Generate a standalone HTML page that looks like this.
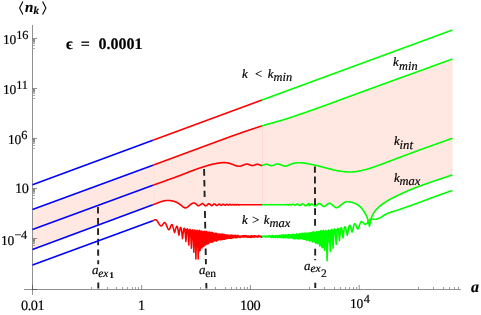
<!DOCTYPE html>
<html><head><meta charset="utf-8"><title>plot</title>
<style>
html,body{margin:0;padding:0;background:#fff;}
body{width:481px;height:315px;position:relative;overflow:hidden;font-family:"Liberation Serif",serif;color:#000;}
.t{position:absolute;white-space:nowrap;line-height:1;font-family:"Liberation Serif",serif;text-rendering:geometricPrecision;will-change:transform;-webkit-text-stroke:0.18px #000;}
.i{font-style:italic;}
.b{font-weight:bold;}
.sub{position:relative;}
</style></head>
<body>
<svg width="481" height="315" viewBox="0 0 481 315" style="position:absolute;left:0;top:0">
<rect width="481" height="315" fill="#ffffff"/>
<polygon points="32.90,209.35 152.90,165.17 152.90,204.80 32.90,249.35" fill="#ffe8e2"/>
<polygon points="152.90,165.17 220.50,140.29 221.00,140.10 221.50,139.92 222.00,139.73 222.50,139.55 223.00,139.36 223.50,139.17 224.00,138.99 224.50,138.80 225.00,138.62 225.50,138.43 226.00,138.25 226.50,138.06 227.00,137.88 227.50,137.69 228.00,137.51 228.50,137.32 229.00,137.14 229.50,136.96 230.00,136.77 230.50,136.59 231.00,136.41 231.50,136.23 232.00,136.05 232.50,135.87 233.00,135.69 233.50,135.51 234.00,135.33 234.50,135.16 235.00,134.98 235.50,134.80 236.00,134.62 236.50,134.45 237.00,134.27 237.50,134.09 238.00,133.92 238.50,133.74 239.00,133.57 239.50,133.39 240.00,133.22 240.50,133.04 241.00,132.87 241.50,132.70 242.00,132.52 242.50,132.35 243.00,132.18 243.50,132.01 244.00,131.84 244.50,131.67 245.00,131.50 245.50,131.33 246.00,131.16 246.50,130.99 247.00,130.82 247.50,130.65 248.00,130.49 248.50,130.32 249.00,130.15 249.50,129.98 250.00,129.81 250.50,129.65 251.00,129.48 251.50,129.31 252.00,129.14 252.50,128.98 253.00,128.81 253.50,128.65 254.00,128.48 254.50,128.31 255.00,128.15 255.50,127.99 256.00,127.82 256.50,127.66 257.00,127.50 257.50,127.33 258.00,127.17 258.50,127.01 259.00,126.85 259.50,126.69 260.00,126.53 260.50,126.37 261.00,126.21 261.50,126.06 262.00,125.90 262.00,204.75 261.70,204.75 261.40,204.75 261.10,204.75 260.80,204.75 260.50,204.75 260.20,204.75 259.90,204.75 259.60,204.75 259.30,204.75 259.00,204.75 258.70,204.75 258.40,204.75 258.10,204.75 257.80,204.75 257.50,204.75 257.20,204.75 256.90,204.75 256.60,204.75 256.30,204.75 256.00,204.74 255.70,204.74 255.40,204.74 255.10,204.74 254.80,204.74 254.50,204.74 254.20,204.74 253.90,204.74 253.60,204.74 253.30,204.74 253.00,204.74 252.70,204.74 252.40,204.74 252.10,204.74 251.80,204.74 251.50,204.73 251.20,204.73 250.90,204.73 250.60,204.73 250.30,204.73 250.00,204.73 249.70,204.73 249.40,204.73 249.10,204.73 248.80,204.73 248.50,204.73 248.20,204.73 247.90,204.73 247.60,204.73 247.30,204.73 247.00,204.73 246.70,204.73 246.40,204.73 246.10,204.73 245.80,204.73 245.50,204.73 245.20,204.73 244.90,204.73 244.60,204.73 244.30,204.73 244.00,204.73 243.70,204.74 243.40,204.74 243.10,204.74 242.80,204.74 242.50,204.74 242.20,204.74 241.90,204.74 241.60,204.75 241.30,204.75 241.00,204.75 240.73,204.76 240.46,204.78 240.19,204.80 239.92,204.83 239.65,204.86 239.38,204.89 239.11,204.91 238.84,204.92 238.58,204.92 238.28,204.85 237.98,204.73 237.68,204.62 237.38,204.57 237.08,204.63 236.78,204.77 236.48,204.90 236.18,204.95 235.88,204.88 235.58,204.73 235.28,204.59 234.98,204.52 234.68,204.60 234.38,204.77 234.08,204.93 233.78,205.00 233.48,204.91 233.18,204.73 232.88,204.55 232.58,204.47 232.32,204.54 232.06,204.69 231.80,204.86 231.55,205.00 231.29,205.06 231.01,204.99 230.74,204.82 230.46,204.63 230.19,204.47 229.91,204.40 229.61,204.49 229.31,204.67 229.02,204.89 228.72,205.06 228.42,205.13 228.16,205.07 227.89,204.91 227.63,204.72 227.36,204.52 227.09,204.38 226.83,204.32 226.54,204.40 226.25,204.57 225.97,204.79 225.68,205.00 225.40,205.16 225.11,205.22 224.85,205.16 224.58,205.01 224.32,204.82 224.05,204.60 223.79,204.41 223.53,204.27 223.26,204.22 222.98,204.29 222.70,204.46 222.41,204.68 222.13,204.91 221.84,205.13 221.56,205.28 221.28,205.33 221.01,205.27 220.74,205.13 220.48,204.93 220.21,204.70 219.94,204.48 219.68,204.28 219.41,204.15 219.14,204.10 218.85,204.17 218.57,204.33 218.28,204.55 217.99,204.80 217.71,205.05 217.42,205.27 217.13,205.42 216.85,205.47 216.57,205.41 216.30,205.27 216.02,205.06 215.75,204.82 215.47,204.56 215.20,204.33 214.93,204.13 214.65,203.99 214.38,203.95 214.08,204.01 213.79,204.18 213.49,204.41 213.20,204.68 212.90,204.96 212.61,205.22 212.31,205.44 212.02,205.59 211.72,205.64 211.44,205.58 211.15,205.43 210.87,205.21 210.58,204.96 210.30,204.68 210.01,204.40 209.73,204.15 209.44,203.94 209.15,203.80 208.87,203.76 208.59,203.82 208.31,203.96 208.03,204.16 207.75,204.41 207.47,204.69 207.19,204.97 206.92,205.24 206.64,205.49 206.36,205.68 206.08,205.81 205.80,205.85 205.53,205.80 205.25,205.69 204.98,205.52 204.70,205.30 204.43,205.06 204.15,204.79 203.88,204.53 203.60,204.27 203.32,204.04 203.05,203.84 202.78,203.69 202.50,203.60 202.20,203.60 201.90,203.71 201.60,203.90 201.30,204.13 201.00,204.38 200.70,204.61 200.40,204.80 200.10,204.98 199.80,205.18 199.50,205.38 199.20,205.56 198.90,205.71 198.60,205.80 198.30,205.80 198.01,205.70 197.73,205.52 197.44,205.27 197.16,204.99 196.87,204.70 196.59,204.43 196.30,204.20 196.04,204.02 195.78,203.83 195.51,203.64 195.25,203.47 194.99,203.31 194.72,203.17 194.46,203.07 194.20,203.00 193.91,202.98 193.63,203.00 193.34,203.06 193.06,203.14 192.77,203.25 192.49,203.37 192.20,203.50 191.90,203.64 191.60,203.80 191.30,203.97 191.00,204.16 190.70,204.36 190.40,204.58 190.10,204.80 189.82,205.02 189.54,205.26 189.26,205.52 188.98,205.78 188.70,206.04 188.42,206.30 188.14,206.55 187.86,206.79 187.58,207.01 187.30,207.20 187.01,207.37 186.73,207.53 186.44,207.66 186.16,207.76 185.87,207.84 185.59,207.88 185.30,207.90 185.02,207.87 184.73,207.79 184.45,207.68 184.17,207.53 183.88,207.37 183.60,207.20 183.30,207.01 183.00,206.79 182.70,206.56 182.40,206.31 182.10,206.07 181.80,205.83 181.50,205.60 181.22,205.39 180.95,205.18 180.68,204.97 180.40,204.76 180.12,204.55 179.85,204.34 179.57,204.13 179.30,203.93 179.02,203.74 178.75,203.55 178.47,203.37 178.20,203.20 177.92,203.03 177.63,202.87 177.35,202.72 177.07,202.57 176.78,202.43 176.50,202.29 176.22,202.16 175.93,202.04 175.65,201.92 175.37,201.81 175.08,201.70 174.80,201.60 174.51,201.50 174.22,201.41 173.92,201.32 173.63,201.24 173.34,201.16 173.05,201.09 172.75,201.02 172.46,200.96 172.17,200.90 171.88,200.84 171.58,200.79 171.29,200.74 171.00,200.70 170.71,200.66 170.42,200.62 170.12,200.59 169.83,200.56 169.54,200.54 169.25,200.52 168.95,200.51 168.66,200.49 168.37,200.49 168.08,200.48 167.78,200.48 167.49,200.49 167.20,200.50 166.92,200.51 166.63,200.53 166.35,200.55 166.06,200.58 165.78,200.61 165.49,200.65 165.21,200.69 164.92,200.73 164.64,200.77 164.35,200.83 164.07,200.88 163.78,200.94 163.50,201.00 163.22,201.06 162.94,201.13 162.66,201.21 162.39,201.28 162.11,201.36 161.83,201.45 161.55,201.53 161.27,201.62 160.99,201.72 160.71,201.81 160.44,201.90 160.16,202.00 159.88,202.10 159.60,202.20 159.31,202.31 159.02,202.41 158.73,202.52 158.43,202.63 158.14,202.74 157.85,202.85 157.56,202.96 157.27,203.08 156.98,203.19 156.69,203.30 156.40,203.42 156.10,203.53 155.81,203.65 155.52,203.76 155.23,203.88 154.94,204.00 154.65,204.11 154.36,204.23 154.07,204.34 153.77,204.46 153.48,204.57 153.19,204.69 152.90,204.80" fill="#ffe8e2"/>
<polygon points="262.00,125.90 262.50,125.74 263.00,125.59 263.50,125.44 264.00,125.29 264.50,125.15 265.00,125.00 265.50,124.86 266.00,124.71 266.50,124.57 267.00,124.43 267.50,124.29 268.00,124.15 268.50,124.01 269.00,123.87 269.50,123.73 270.00,123.59 270.50,123.46 271.00,123.32 271.50,123.18 272.00,123.03 272.50,122.89 273.00,122.75 273.50,122.61 274.00,122.46 274.50,122.32 275.00,122.18 275.50,122.04 276.00,121.90 276.50,121.76 277.00,121.62 277.50,121.48 278.00,121.34 278.50,121.20 279.00,121.06 279.50,120.92 280.00,120.78 280.50,120.64 281.00,120.50 281.50,120.35 282.00,120.21 282.50,120.06 283.00,119.91 283.50,119.76 284.00,119.61 284.50,119.46 285.00,119.30 285.50,119.14 286.00,118.98 286.50,118.83 287.00,118.67 287.50,118.50 288.00,118.34 288.50,118.18 289.00,118.02 289.50,117.85 290.00,117.69 290.50,117.52 291.00,117.35 291.50,117.19 292.00,117.02 292.50,116.85 293.00,116.68 293.50,116.51 294.00,116.34 294.50,116.17 295.00,116.00 295.50,115.83 296.00,115.66 296.50,115.49 297.00,115.32 297.50,115.15 298.00,114.98 298.50,114.81 299.00,114.64 299.50,114.47 300.00,114.30 300.50,114.13 301.00,113.96 301.50,113.79 302.00,113.62 302.50,113.45 303.00,113.28 303.50,113.11 304.00,112.94 304.50,112.76 305.00,112.59 305.50,112.42 306.00,112.25 306.50,112.08 307.00,111.90 307.50,111.73 308.00,111.56 308.50,111.38 309.00,111.21 309.50,111.04 310.00,110.86 310.50,110.69 311.00,110.51 311.50,110.34 312.00,110.16 312.50,109.99 313.00,109.81 313.50,109.63 314.00,109.46 314.50,109.28 315.00,109.10 315.50,108.92 316.00,108.74 316.50,108.56 317.00,108.38 317.50,108.20 318.00,108.02 318.50,107.84 319.00,107.65 319.50,107.47 320.00,107.29 320.50,107.11 321.00,106.92 321.50,106.74 322.00,106.55 322.50,106.37 323.00,106.18 323.50,106.00 324.00,105.81 324.50,105.63 325.00,105.44 325.50,105.26 326.00,105.07 326.50,104.89 327.00,104.70 327.50,104.52 328.00,104.34 328.50,104.15 329.00,103.97 329.50,103.78 330.00,103.60 330.50,103.42 331.00,103.23 331.50,103.05 332.00,102.87 332.50,102.68 333.00,102.50 333.50,102.32 334.00,102.13 334.50,101.95 335.00,101.77 335.50,101.58 336.00,101.40 336.50,101.22 337.00,101.03 337.50,100.85 338.00,100.67 338.50,100.48 339.00,100.30 339.50,100.12 340.00,99.93 340.50,99.75 341.00,99.57 341.50,99.38 342.00,99.20 342.50,99.02 343.00,98.83 343.50,98.65 344.00,98.47 344.50,98.28 345.00,98.10 345.50,97.92 346.00,97.73 346.50,97.55 347.00,97.37 347.50,97.18 348.00,97.00 348.50,96.82 349.00,96.64 349.50,96.45 350.00,96.27 350.50,96.09 351.00,95.90 351.50,95.72 352.00,95.54 352.50,95.35 353.00,95.17 353.50,94.99 354.00,94.80 354.50,94.62 355.00,94.44 355.50,94.25 356.00,94.07 356.50,93.89 357.00,93.71 357.50,93.52 358.00,93.34 358.50,93.16 359.00,92.97 359.50,92.79 360.00,92.61 360.50,92.42 361.00,92.24 361.50,92.06 362.00,91.87 362.50,91.69 363.00,91.51 363.50,91.33 364.00,91.14 364.50,90.96 365.00,90.78 365.50,90.59 366.00,90.41 366.50,90.23 367.00,90.04 367.50,89.86 368.00,89.68 368.50,89.50 369.00,89.31 369.50,89.13 370.00,88.95 370.50,88.77 371.00,88.58 371.50,88.40 372.00,88.22 372.50,88.03 373.00,87.85 373.50,87.67 374.00,87.49 374.50,87.30 375.00,87.12 375.50,86.94 376.00,86.76 376.50,86.58 377.00,86.39 377.50,86.21 378.00,86.03 378.50,85.85 379.00,85.66 379.50,85.48 380.00,85.30 380.50,85.12 381.00,84.94 381.50,84.75 382.00,84.57 382.50,84.39 383.00,84.21 383.50,84.03 384.00,83.85 384.50,83.66 385.00,83.48 385.50,83.30 386.00,83.12 386.50,82.94 387.00,82.76 387.50,82.57 388.00,82.39 388.50,82.21 389.00,82.03 389.50,81.85 390.00,81.67 390.50,81.49 391.00,81.31 391.50,81.12 392.00,80.94 392.50,80.76 393.00,80.58 393.50,80.40 394.00,80.22 394.50,80.04 395.00,79.86 395.50,79.68 396.00,79.49 396.50,79.31 397.00,79.13 397.50,78.95 398.00,78.77 398.50,78.59 399.00,78.41 399.50,78.23 400.00,78.05 400.50,77.87 401.00,77.68 401.50,77.50 402.00,77.32 402.50,77.14 403.00,76.96 403.50,76.78 404.00,76.60 404.50,76.42 405.00,76.24 405.50,76.06 406.00,75.87 406.50,75.69 407.00,75.51 407.50,75.33 408.00,75.15 408.50,74.97 409.00,74.79 409.50,74.61 410.00,74.43 410.50,74.25 411.00,74.06 411.50,73.88 412.00,73.70 412.50,73.52 413.00,73.34 413.50,73.16 414.00,72.98 414.50,72.80 415.00,72.61 415.50,72.43 416.00,72.25 416.50,72.07 417.00,71.89 417.50,71.71 418.00,71.53 418.50,71.34 419.00,71.16 419.50,70.98 420.00,70.80 420.50,70.62 421.00,70.44 421.50,70.26 421.99,70.08 422.49,69.89 422.99,69.71 423.49,69.53 423.99,69.35 424.49,69.17 424.98,68.99 425.48,68.81 425.98,68.63 426.48,68.44 426.98,68.26 427.48,68.08 427.98,67.90 428.47,67.72 428.97,67.54 429.47,67.36 429.97,67.17 430.47,66.99 430.97,66.81 431.46,66.63 431.96,66.45 432.46,66.27 432.96,66.08 433.46,65.90 433.96,65.72 434.46,65.54 434.95,65.36 435.45,65.18 435.95,64.99 436.45,64.81 436.95,64.63 437.45,64.45 437.94,64.27 438.44,64.09 438.94,63.90 439.44,63.72 439.94,63.54 440.44,63.36 440.94,63.18 441.43,63.00 441.93,62.81 442.43,62.63 442.93,62.45 443.43,62.27 443.93,62.09 444.42,61.91 444.92,61.72 445.42,61.54 445.92,61.36 446.42,61.18 446.92,61.00 447.42,60.82 447.91,60.63 448.41,60.45 448.91,60.27 449.41,60.09 449.91,59.91 450.41,59.73 450.90,59.54 451.40,59.36 451.90,59.18 452.40,59.00 452.40,174.90 452.00,175.03 451.60,175.17 451.20,175.30 450.80,175.44 450.40,175.57 450.00,175.70 449.60,175.84 449.20,175.97 448.80,176.10 448.40,176.24 448.00,176.37 447.60,176.50 447.20,176.63 446.80,176.77 446.40,176.90 446.00,177.03 445.60,177.17 445.20,177.30 444.80,177.43 444.40,177.57 444.00,177.70 443.60,177.83 443.20,177.97 442.80,178.10 442.40,178.24 442.00,178.37 441.60,178.50 441.20,178.64 440.80,178.77 440.40,178.91 440.00,179.04 439.60,179.18 439.20,179.32 438.80,179.45 438.40,179.59 438.00,179.73 437.60,179.86 437.20,180.00 436.80,180.14 436.40,180.27 436.01,180.41 435.61,180.55 435.21,180.68 434.81,180.82 434.41,180.96 434.02,181.09 433.62,181.23 433.22,181.37 432.82,181.50 432.43,181.64 432.03,181.78 431.63,181.91 431.23,182.05 430.83,182.19 430.44,182.32 430.04,182.46 429.64,182.60 429.24,182.74 428.84,182.87 428.45,183.01 428.05,183.15 427.65,183.29 427.25,183.43 426.85,183.57 426.46,183.70 426.06,183.84 425.66,183.98 425.26,184.12 424.86,184.26 424.47,184.40 424.07,184.54 423.67,184.68 423.27,184.83 422.88,184.97 422.48,185.11 422.08,185.25 421.68,185.39 421.28,185.54 420.89,185.68 420.49,185.83 420.09,185.97 419.69,186.12 419.29,186.26 418.90,186.41 418.50,186.55 418.10,186.70 417.71,186.84 417.32,186.99 416.93,187.14 416.55,187.29 416.16,187.44 415.77,187.59 415.38,187.74 414.99,187.89 414.60,188.05 414.22,188.21 413.83,188.36 413.44,188.52 413.05,188.68 412.66,188.84 412.27,189.00 411.88,189.16 411.50,189.32 411.11,189.49 410.72,189.65 410.33,189.81 409.94,189.98 409.55,190.14 409.17,190.30 408.78,190.47 408.39,190.63 408.00,190.80 407.60,190.97 407.20,191.14 406.80,191.32 406.40,191.49 406.00,191.66 405.60,191.84 405.20,192.02 404.80,192.20 404.40,192.37 404.00,192.55 403.60,192.74 403.20,192.92 402.80,193.10 402.40,193.28 402.00,193.47 401.60,193.65 401.20,193.84 400.80,194.02 400.40,194.21 400.00,194.40 399.60,194.59 399.20,194.78 398.80,194.96 398.40,195.15 398.00,195.34 397.60,195.53 397.20,195.72 396.80,195.91 396.40,196.10 396.00,196.29 395.60,196.48 395.20,196.67 394.80,196.87 394.40,197.06 394.00,197.26 393.60,197.46 393.20,197.66 392.80,197.86 392.40,198.06 392.00,198.27 391.60,198.48 391.20,198.69 390.80,198.90 390.41,199.11 390.01,199.33 389.62,199.55 389.23,199.78 388.83,200.01 388.44,200.24 388.04,200.48 387.65,200.72 387.26,200.96 386.86,201.20 386.47,201.45 386.07,201.69 385.68,201.94 385.29,202.20 384.89,202.45 384.50,202.70 384.11,202.95 383.72,203.21 383.33,203.47 382.94,203.75 382.56,204.02 382.17,204.31 381.78,204.60 381.39,204.89 381.00,205.20 380.64,205.49 380.27,205.80 379.91,206.12 379.55,206.44 379.19,206.77 378.83,207.11 378.46,207.45 378.10,207.80 377.75,208.14 377.40,208.47 377.05,208.81 376.70,209.16 376.35,209.51 376.00,209.89 375.65,210.28 375.30,210.70 374.92,211.19 374.53,211.70 374.15,212.25 373.77,212.83 373.38,213.45 373.00,214.10 372.65,214.76 372.30,215.49 371.95,216.31 371.60,217.20 371.27,218.16 370.93,219.26 370.60,220.50 370.30,221.89 370.00,223.50 369.75,224.92 369.50,226.40 369.25,225.34 369.00,224.30 368.77,223.34 368.53,222.40 368.30,221.50 368.05,220.56 367.80,219.64 367.55,218.77 367.30,218.00 367.04,217.30 366.78,216.66 366.52,216.08 366.26,215.53 366.00,215.00 365.73,214.47 365.46,213.95 365.19,213.44 364.91,212.96 364.64,212.49 364.37,212.04 364.10,211.60 363.84,211.19 363.58,210.79 363.31,210.41 363.05,210.04 362.79,209.68 362.52,209.33 362.26,209.01 362.00,208.70 361.71,208.37 361.42,208.06 361.13,207.76 360.84,207.46 360.55,207.18 360.26,206.90 359.97,206.64 359.68,206.38 359.39,206.14 359.10,205.90 358.82,205.68 358.54,205.47 358.25,205.26 357.97,205.07 357.69,204.88 357.41,204.70 357.13,204.53 356.85,204.36 356.56,204.20 356.28,204.05 356.00,203.90 355.73,203.76 355.45,203.63 355.18,203.50 354.90,203.37 354.62,203.26 354.35,203.14 354.07,203.04 353.80,202.94 353.52,202.84 353.25,202.76 352.97,202.67 352.70,202.60 352.41,202.53 352.12,202.45 351.83,202.38 351.54,202.32 351.26,202.25 350.97,202.19 350.68,202.13 350.39,202.07 350.10,202.02 349.81,201.96 349.52,201.92 349.23,201.87 348.94,201.83 348.66,201.80 348.37,201.77 348.08,201.74 347.79,201.72 347.50,201.70 347.22,201.69 346.94,201.70 346.67,201.72 346.39,201.76 346.11,201.81 345.83,201.88 345.56,201.97 345.28,202.07 345.00,202.20 344.71,202.35 344.43,202.51 344.14,202.69 343.86,202.87 343.57,203.07 343.29,203.27 343.00,203.48 342.71,203.69 342.43,203.90 342.14,204.11 341.86,204.31 341.57,204.52 341.29,204.71 341.00,204.90 340.71,205.10 340.43,205.31 340.14,205.54 339.85,205.78 339.56,206.03 339.27,206.27 338.99,206.52 338.70,206.75 338.41,206.97 338.12,207.17 337.84,207.34 337.55,207.49 337.26,207.61 336.97,207.68 336.69,207.71 336.40,207.70 336.10,207.64 335.81,207.54 335.51,207.41 335.22,207.25 334.92,207.06 334.63,206.86 334.33,206.63 334.03,206.38 333.74,206.13 333.44,205.87 333.15,205.60 332.85,205.33 332.56,205.06 332.26,204.80 331.97,204.55 331.67,204.31 331.37,204.09 331.08,203.89 330.78,203.71 330.49,203.56 330.19,203.44 329.90,203.35 329.60,203.30 329.31,203.30 329.01,203.35 328.72,203.45 328.42,203.59 328.13,203.77 327.83,203.97 327.54,204.19 327.24,204.44 326.95,204.69 326.65,204.95 326.36,205.20 326.06,205.45 325.77,205.69 325.47,205.91 325.18,206.10 324.88,206.26 324.59,206.39 324.29,206.47 324.00,206.50 323.72,206.48 323.44,206.40 323.15,206.27 322.87,206.10 322.59,205.90 322.31,205.68 322.02,205.43 321.74,205.18 321.46,204.92 321.18,204.66 320.89,204.41 320.61,204.17 320.33,203.96 320.05,203.78 319.76,203.64 319.48,203.54 319.20,203.50 318.90,203.53 318.60,203.63 318.30,203.80 318.00,204.02 317.70,204.27 317.40,204.55 317.10,204.84 316.80,205.13 316.50,205.39 316.20,205.63 315.90,205.81 315.60,205.94 315.30,206.00 315.01,205.98 314.73,205.91 314.44,205.79 314.16,205.62 313.87,205.43 313.59,205.22 313.30,205.00 313.01,204.78 312.73,204.56 312.44,204.36 312.16,204.18 311.87,204.04 311.59,203.94 311.30,203.90 311.01,204.00 310.73,204.26 310.44,204.63 310.16,205.03 309.87,205.39 309.59,205.64 309.30,205.70 309.22,204.60 309.13,203.50 308.84,203.55 308.55,203.68 308.26,203.86 307.97,204.10 307.68,204.36 307.39,204.64 307.10,204.92 306.81,205.18 306.52,205.42 306.23,205.61 305.94,205.74 305.65,205.80 305.37,205.76 305.09,205.64 304.81,205.46 304.53,205.23 304.24,204.98 303.96,204.70 303.68,204.44 303.40,204.20 303.11,204.00 302.83,203.86 302.55,203.80 302.27,203.83 301.99,203.95 301.72,204.12 301.44,204.34 301.16,204.58 300.88,204.82 300.61,205.05 300.33,205.24 300.05,205.38 299.78,205.44 299.50,205.40 299.23,205.29 298.95,205.12 298.68,204.91 298.40,204.69 298.13,204.47 297.85,204.29 297.57,204.16 297.30,204.10 297.02,204.13 296.75,204.25 296.47,204.42 296.19,204.62 295.92,204.82 295.64,205.00 295.37,205.14 295.09,205.19 294.81,205.16 294.53,205.03 294.24,204.86 293.96,204.67 293.68,204.49 293.40,204.36 293.12,204.29 292.82,204.34 292.53,204.47 292.23,204.65 291.94,204.82 291.65,204.97 291.35,205.03 291.09,205.00 290.83,204.89 290.57,204.75 290.30,204.60 290.04,204.48 289.78,204.43 289.50,204.47 289.22,204.59 288.94,204.74 288.66,204.86 288.37,204.92 288.12,204.89 287.87,204.79 287.62,204.67 287.37,204.57 287.12,204.52 286.84,204.56 286.56,204.67 286.28,204.78 286.00,204.85 285.75,204.84 285.50,204.79 285.25,204.73 285.00,204.70 284.70,204.70 284.40,204.70 284.10,204.70 283.81,204.70 283.51,204.70 283.21,204.69 282.91,204.69 282.61,204.69 282.31,204.69 282.01,204.69 281.71,204.69 281.42,204.69 281.12,204.69 280.82,204.69 280.52,204.69 280.22,204.69 279.92,204.69 279.62,204.69 279.32,204.69 279.03,204.69 278.73,204.69 278.43,204.69 278.13,204.70 277.83,204.70 277.53,204.70 277.23,204.70 276.94,204.70 276.64,204.70 276.34,204.70 276.04,204.70 275.74,204.70 275.44,204.70 275.14,204.70 274.84,204.70 274.55,204.71 274.25,204.71 273.95,204.71 273.65,204.71 273.35,204.71 273.05,204.71 272.75,204.71 272.45,204.71 272.16,204.72 271.86,204.72 271.56,204.72 271.26,204.72 270.96,204.72 270.66,204.72 270.36,204.72 270.06,204.72 269.77,204.73 269.47,204.73 269.17,204.73 268.87,204.73 268.57,204.73 268.27,204.73 267.97,204.73 267.68,204.73 267.38,204.74 267.08,204.74 266.78,204.74 266.48,204.74 266.18,204.74 265.88,204.74 265.58,204.74 265.29,204.74 264.99,204.74 264.69,204.74 264.39,204.75 264.09,204.75 263.79,204.75 263.49,204.75 263.19,204.75 262.90,204.75 262.60,204.75 262.30,204.75 262.00,204.75" fill="#ffe8e2"/>
<line x1="153.50" x2="153.50" y1="164.95" y2="204.57" stroke="#ffe0da" stroke-width="1"/>
<line x1="262.50" x2="262.50" y1="125.74" y2="204.75" stroke="#ffd8d1" stroke-width="1"/>
<line x1="451.75" x2="451.75" y1="59.40" y2="174.60" stroke="#ffe0da" stroke-width="0.9"/>
<g stroke="#404040" stroke-width="1" stroke-opacity="0.58" fill="none" shape-rendering="auto">
<line x1="32.50" x2="32.50" y1="24.9" y2="294.8"/>
<line x1="24" x2="460.7" y1="289.50" y2="289.50"/>
<line x1="32.50" x2="37" y1="289.50" y2="289.50"/>
<line x1="32.50" x2="32.50" y1="285" y2="289.50"/>
<line x1="32.50" x2="37.0" y1="38.50" y2="38.50"/>
<line x1="32.50" x2="37.0" y1="88.50" y2="88.50"/>
<line x1="32.50" x2="37.0" y1="138.50" y2="138.50"/>
<line x1="32.50" x2="37.0" y1="188.50" y2="188.50"/>
<line x1="32.50" x2="37.0" y1="238.50" y2="238.50"/>
<line x1="141.70" x2="141.70" y1="285.0" y2="289.50"/>
<line x1="250.40" x2="250.40" y1="285.0" y2="289.50"/>
<line x1="359.20" x2="359.20" y1="285.0" y2="289.50"/>
</g>
<g stroke="#404040" stroke-width="1" fill="none">
<line x1="33" x2="35.0" y1="39.50" y2="39.50" stroke-opacity="0.62"/>
<line x1="33" x2="35.0" y1="40.50" y2="40.50" stroke-opacity="0.62"/>
<line x1="33" x2="35.0" y1="41.50" y2="41.50" stroke-opacity="0.55"/>
<line x1="33" x2="35.0" y1="42.50" y2="42.50" stroke-opacity="0.35"/>
<line x1="33" x2="35.0" y1="43.50" y2="43.50" stroke-opacity="0.42"/>
<line x1="33" x2="35.0" y1="45.50" y2="45.50" stroke-opacity="0.45"/>
<line x1="33" x2="35.0" y1="48.50" y2="48.50" stroke-opacity="0.42"/>
<line x1="33" x2="35.0" y1="89.50" y2="89.50" stroke-opacity="0.62"/>
<line x1="33" x2="35.0" y1="90.50" y2="90.50" stroke-opacity="0.62"/>
<line x1="33" x2="35.0" y1="91.50" y2="91.50" stroke-opacity="0.55"/>
<line x1="33" x2="35.0" y1="92.50" y2="92.50" stroke-opacity="0.35"/>
<line x1="33" x2="35.0" y1="93.50" y2="93.50" stroke-opacity="0.42"/>
<line x1="33" x2="35.0" y1="95.50" y2="95.50" stroke-opacity="0.45"/>
<line x1="33" x2="35.0" y1="98.50" y2="98.50" stroke-opacity="0.42"/>
<line x1="33" x2="35.0" y1="139.50" y2="139.50" stroke-opacity="0.62"/>
<line x1="33" x2="35.0" y1="140.50" y2="140.50" stroke-opacity="0.62"/>
<line x1="33" x2="35.0" y1="141.50" y2="141.50" stroke-opacity="0.55"/>
<line x1="33" x2="35.0" y1="142.50" y2="142.50" stroke-opacity="0.35"/>
<line x1="33" x2="35.0" y1="143.50" y2="143.50" stroke-opacity="0.42"/>
<line x1="33" x2="35.0" y1="145.50" y2="145.50" stroke-opacity="0.45"/>
<line x1="33" x2="35.0" y1="148.50" y2="148.50" stroke-opacity="0.42"/>
<line x1="33" x2="35.0" y1="189.50" y2="189.50" stroke-opacity="0.62"/>
<line x1="33" x2="35.0" y1="190.50" y2="190.50" stroke-opacity="0.62"/>
<line x1="33" x2="35.0" y1="191.50" y2="191.50" stroke-opacity="0.55"/>
<line x1="33" x2="35.0" y1="192.50" y2="192.50" stroke-opacity="0.35"/>
<line x1="33" x2="35.0" y1="193.50" y2="193.50" stroke-opacity="0.42"/>
<line x1="33" x2="35.0" y1="195.50" y2="195.50" stroke-opacity="0.45"/>
<line x1="33" x2="35.0" y1="198.50" y2="198.50" stroke-opacity="0.42"/>
<line x1="33" x2="35.0" y1="239.50" y2="239.50" stroke-opacity="0.62"/>
<line x1="33" x2="35.0" y1="240.50" y2="240.50" stroke-opacity="0.62"/>
<line x1="33" x2="35.0" y1="241.50" y2="241.50" stroke-opacity="0.55"/>
<line x1="33" x2="35.0" y1="242.50" y2="242.50" stroke-opacity="0.35"/>
<line x1="33" x2="35.0" y1="243.50" y2="243.50" stroke-opacity="0.42"/>
<line x1="33" x2="35.0" y1="245.50" y2="245.50" stroke-opacity="0.45"/>
<line x1="33" x2="35.0" y1="248.50" y2="248.50" stroke-opacity="0.42"/>
</g>
<g stroke="#404040" stroke-width="1" stroke-opacity="0.5" fill="none">
<line x1="91.50" x2="91.50" y1="287.0" y2="289.00"/>
<line x1="107.50" x2="107.50" y1="287.0" y2="289.00"/>
<line x1="116.50" x2="116.50" y1="287.0" y2="289.00"/>
<line x1="122.50" x2="122.50" y1="287.0" y2="289.00"/>
<line x1="127.50" x2="127.50" y1="287.0" y2="289.00"/>
<line x1="132.50" x2="132.50" y1="287.0" y2="289.00"/>
<line x1="135.50" x2="135.50" y1="287.0" y2="289.00"/>
<line x1="138.50" x2="138.50" y1="287.0" y2="289.00"/>
<line x1="200.50" x2="200.50" y1="287.0" y2="289.00"/>
<line x1="215.50" x2="215.50" y1="287.0" y2="289.00"/>
<line x1="225.50" x2="225.50" y1="287.0" y2="289.00"/>
<line x1="231.50" x2="231.50" y1="287.0" y2="289.00"/>
<line x1="236.50" x2="236.50" y1="287.0" y2="289.00"/>
<line x1="240.50" x2="240.50" y1="287.0" y2="289.00"/>
<line x1="244.50" x2="244.50" y1="287.0" y2="289.00"/>
<line x1="247.50" x2="247.50" y1="287.0" y2="289.00"/>
<line x1="309.50" x2="309.50" y1="287.0" y2="289.00"/>
<line x1="324.50" x2="324.50" y1="287.0" y2="289.00"/>
<line x1="334.50" x2="334.50" y1="287.0" y2="289.00"/>
<line x1="340.50" x2="340.50" y1="287.0" y2="289.00"/>
<line x1="345.50" x2="345.50" y1="287.0" y2="289.00"/>
<line x1="349.50" x2="349.50" y1="287.0" y2="289.00"/>
<line x1="353.50" x2="353.50" y1="287.0" y2="289.00"/>
<line x1="356.50" x2="356.50" y1="287.0" y2="289.00"/>
<line x1="418.50" x2="418.50" y1="287.0" y2="289.00"/>
<line x1="433.50" x2="433.50" y1="287.0" y2="289.00"/>
<line x1="443.50" x2="443.50" y1="287.0" y2="289.00"/>
<line x1="449.50" x2="449.50" y1="287.0" y2="289.00"/>
<line x1="454.50" x2="454.50" y1="287.0" y2="289.00"/>
<line x1="458.50" x2="458.50" y1="287.0" y2="289.00"/>
</g>
<line x1="98.00" y1="207.10" x2="98.02" y2="213.40" stroke="#222222" stroke-width="1.9"/>
<line x1="98.04" y1="217.90" x2="98.07" y2="224.70" stroke="#222222" stroke-width="1.9"/>
<line x1="98.08" y1="228.30" x2="98.10" y2="235.00" stroke="#222222" stroke-width="1.9"/>
<line x1="98.12" y1="238.80" x2="98.14" y2="245.20" stroke="#222222" stroke-width="1.9"/>
<line x1="98.16" y1="249.40" x2="98.18" y2="255.80" stroke="#222222" stroke-width="1.9"/>
<line x1="98.20" y1="260.30" x2="98.21" y2="264.20" stroke="#222222" stroke-width="1.9"/>
<line x1="98.28" y1="282.40" x2="98.30" y2="288.40" stroke="#222222" stroke-width="1.9"/>
<line x1="204.10" y1="169.10" x2="204.23" y2="175.70" stroke="#222222" stroke-width="1.9"/>
<line x1="204.31" y1="180.00" x2="204.44" y2="186.50" stroke="#222222" stroke-width="1.9"/>
<line x1="204.52" y1="190.70" x2="204.64" y2="196.90" stroke="#222222" stroke-width="1.9"/>
<line x1="204.91" y1="210.90" x2="205.05" y2="217.90" stroke="#222222" stroke-width="1.9"/>
<line x1="205.12" y1="221.70" x2="205.25" y2="228.60" stroke="#222222" stroke-width="1.9"/>
<line x1="205.64" y1="248.50" x2="205.76" y2="255.00" stroke="#222222" stroke-width="1.9"/>
<line x1="205.84" y1="259.00" x2="205.94" y2="264.30" stroke="#222222" stroke-width="1.9"/>
<line x1="206.30" y1="282.90" x2="206.41" y2="288.40" stroke="#222222" stroke-width="1.9"/>
<line x1="314.90" y1="166.40" x2="314.92" y2="172.70" stroke="#222222" stroke-width="1.9"/>
<line x1="314.93" y1="176.50" x2="314.96" y2="183.50" stroke="#222222" stroke-width="1.9"/>
<line x1="314.97" y1="187.30" x2="314.99" y2="194.10" stroke="#222222" stroke-width="1.9"/>
<line x1="315.01" y1="198.20" x2="315.03" y2="204.90" stroke="#222222" stroke-width="1.9"/>
<line x1="315.04" y1="208.30" x2="315.06" y2="215.10" stroke="#222222" stroke-width="1.9"/>
<line x1="315.07" y1="218.90" x2="315.10" y2="225.70" stroke="#222222" stroke-width="1.9"/>
<line x1="315.17" y1="248.70" x2="315.19" y2="255.60" stroke="#222222" stroke-width="1.9"/>
<line x1="315.20" y1="258.90" x2="315.21" y2="260.30" stroke="#222222" stroke-width="1.9"/>
<line x1="315.28" y1="282.80" x2="315.30" y2="288.00" stroke="#222222" stroke-width="1.9"/>
<path d="M32.50,184.70 L152.90,140.31" fill="none" stroke="#0000ff" stroke-width="1.62" stroke-linejoin="round" stroke-linecap="butt"/>
<path d="M152.90,140.31 L262.00,100.09" fill="none" stroke="#ff0000" stroke-width="1.62" stroke-linejoin="round" stroke-linecap="butt"/>
<path d="M262.00,100.09 L452.40,29.90" fill="none" stroke="#00ff00" stroke-width="1.62" stroke-linejoin="round" stroke-linecap="butt"/>
<path d="M32.50,209.50 L152.90,165.17" fill="none" stroke="#0000ff" stroke-width="1.62" stroke-linejoin="round" stroke-linecap="butt"/>
<path d="M152.90,165.17 L220.50,140.29 L221.00,140.10 L221.50,139.92 L222.00,139.73 L222.50,139.55 L223.00,139.36 L223.50,139.17 L224.00,138.99 L224.50,138.80 L225.00,138.62 L225.50,138.43 L226.00,138.25 L226.50,138.06 L227.00,137.88 L227.50,137.69 L228.00,137.51 L228.50,137.32 L229.00,137.14 L229.50,136.96 L230.00,136.77 L230.50,136.59 L231.00,136.41 L231.50,136.23 L232.00,136.05 L232.50,135.87 L233.00,135.69 L233.50,135.51 L234.00,135.33 L234.50,135.16 L235.00,134.98 L235.50,134.80 L236.00,134.62 L236.50,134.45 L237.00,134.27 L237.50,134.09 L238.00,133.92 L238.50,133.74 L239.00,133.57 L239.50,133.39 L240.00,133.22 L240.50,133.04 L241.00,132.87 L241.50,132.70 L242.00,132.52 L242.50,132.35 L243.00,132.18 L243.50,132.01 L244.00,131.84 L244.50,131.67 L245.00,131.50 L245.50,131.33 L246.00,131.16 L246.50,130.99 L247.00,130.82 L247.50,130.65 L248.00,130.49 L248.50,130.32 L249.00,130.15 L249.50,129.98 L250.00,129.81 L250.50,129.65 L251.00,129.48 L251.50,129.31 L252.00,129.14 L252.50,128.98 L253.00,128.81 L253.50,128.65 L254.00,128.48 L254.50,128.31 L255.00,128.15 L255.50,127.99 L256.00,127.82 L256.50,127.66 L257.00,127.50 L257.50,127.33 L258.00,127.17 L258.50,127.01 L259.00,126.85 L259.50,126.69 L260.00,126.53 L260.50,126.37 L261.00,126.21 L261.50,126.06 L262.00,125.90" fill="none" stroke="#ff0000" stroke-width="1.62" stroke-linejoin="round" stroke-linecap="butt"/>
<path d="M262.00,125.90 L262.50,125.74 L263.00,125.59 L263.50,125.44 L264.00,125.29 L264.50,125.15 L265.00,125.00 L265.50,124.86 L266.00,124.71 L266.50,124.57 L267.00,124.43 L267.50,124.29 L268.00,124.15 L268.50,124.01 L269.00,123.87 L269.50,123.73 L270.00,123.59 L270.50,123.46 L271.00,123.32 L271.50,123.18 L272.00,123.03 L272.50,122.89 L273.00,122.75 L273.50,122.61 L274.00,122.46 L274.50,122.32 L275.00,122.18 L275.50,122.04 L276.00,121.90 L276.50,121.76 L277.00,121.62 L277.50,121.48 L278.00,121.34 L278.50,121.20 L279.00,121.06 L279.50,120.92 L280.00,120.78 L280.50,120.64 L281.00,120.50 L281.50,120.35 L282.00,120.21 L282.50,120.06 L283.00,119.91 L283.50,119.76 L284.00,119.61 L284.50,119.46 L285.00,119.30 L285.50,119.14 L286.00,118.98 L286.50,118.83 L287.00,118.67 L287.50,118.50 L288.00,118.34 L288.50,118.18 L289.00,118.02 L289.50,117.85 L290.00,117.69 L290.50,117.52 L291.00,117.35 L291.50,117.19 L292.00,117.02 L292.50,116.85 L293.00,116.68 L293.50,116.51 L294.00,116.34 L294.50,116.17 L295.00,116.00 L295.50,115.83 L296.00,115.66 L296.50,115.49 L297.00,115.32 L297.50,115.15 L298.00,114.98 L298.50,114.81 L299.00,114.64 L299.50,114.47 L300.00,114.30 L300.50,114.13 L301.00,113.96 L301.50,113.79 L302.00,113.62 L302.50,113.45 L303.00,113.28 L303.50,113.11 L304.00,112.94 L304.50,112.76 L305.00,112.59 L305.50,112.42 L306.00,112.25 L306.50,112.08 L307.00,111.90 L307.50,111.73 L308.00,111.56 L308.50,111.38 L309.00,111.21 L309.50,111.04 L310.00,110.86 L310.50,110.69 L311.00,110.51 L311.50,110.34 L312.00,110.16 L312.50,109.99 L313.00,109.81 L313.50,109.63 L314.00,109.46 L314.50,109.28 L315.00,109.10 L315.50,108.92 L316.00,108.74 L316.50,108.56 L317.00,108.38 L317.50,108.20 L318.00,108.02 L318.50,107.84 L319.00,107.65 L319.50,107.47 L320.00,107.29 L320.50,107.11 L321.00,106.92 L321.50,106.74 L322.00,106.55 L322.50,106.37 L323.00,106.18 L323.50,106.00 L324.00,105.81 L324.50,105.63 L325.00,105.44 L325.50,105.26 L326.00,105.07 L326.50,104.89 L327.00,104.70 L327.50,104.52 L328.00,104.34 L328.50,104.15 L329.00,103.97 L329.50,103.78 L330.00,103.60 L330.50,103.42 L331.00,103.23 L331.50,103.05 L332.00,102.87 L332.50,102.68 L333.00,102.50 L333.50,102.32 L334.00,102.13 L334.50,101.95 L335.00,101.77 L335.50,101.58 L336.00,101.40 L336.50,101.22 L337.00,101.03 L337.50,100.85 L338.00,100.67 L338.50,100.48 L339.00,100.30 L339.50,100.12 L340.00,99.93 L340.50,99.75 L341.00,99.57 L341.50,99.38 L342.00,99.20 L342.50,99.02 L343.00,98.83 L343.50,98.65 L344.00,98.47 L344.50,98.28 L345.00,98.10 L345.50,97.92 L346.00,97.73 L346.50,97.55 L347.00,97.37 L347.50,97.18 L348.00,97.00 L348.50,96.82 L349.00,96.64 L349.50,96.45 L350.00,96.27 L350.50,96.09 L351.00,95.90 L351.50,95.72 L352.00,95.54 L352.50,95.35 L353.00,95.17 L353.50,94.99 L354.00,94.80 L354.50,94.62 L355.00,94.44 L355.50,94.25 L356.00,94.07 L356.50,93.89 L357.00,93.71 L357.50,93.52 L358.00,93.34 L358.50,93.16 L359.00,92.97 L359.50,92.79 L360.00,92.61 L360.50,92.42 L361.00,92.24 L361.50,92.06 L362.00,91.87 L362.50,91.69 L363.00,91.51 L363.50,91.33 L364.00,91.14 L364.50,90.96 L365.00,90.78 L365.50,90.59 L366.00,90.41 L366.50,90.23 L367.00,90.04 L367.50,89.86 L368.00,89.68 L368.50,89.50 L369.00,89.31 L369.50,89.13 L370.00,88.95 L370.50,88.77 L371.00,88.58 L371.50,88.40 L372.00,88.22 L372.50,88.03 L373.00,87.85 L373.50,87.67 L374.00,87.49 L374.50,87.30 L375.00,87.12 L375.50,86.94 L376.00,86.76 L376.50,86.58 L377.00,86.39 L377.50,86.21 L378.00,86.03 L378.50,85.85 L379.00,85.66 L379.50,85.48 L380.00,85.30 L380.50,85.12 L381.00,84.94 L381.50,84.75 L382.00,84.57 L382.50,84.39 L383.00,84.21 L383.50,84.03 L384.00,83.85 L384.50,83.66 L385.00,83.48 L385.50,83.30 L386.00,83.12 L386.50,82.94 L387.00,82.76 L387.50,82.57 L388.00,82.39 L388.50,82.21 L389.00,82.03 L389.50,81.85 L390.00,81.67 L390.50,81.49 L391.00,81.31 L391.50,81.12 L392.00,80.94 L392.50,80.76 L393.00,80.58 L393.50,80.40 L394.00,80.22 L394.50,80.04 L395.00,79.86 L395.50,79.68 L396.00,79.49 L396.50,79.31 L397.00,79.13 L397.50,78.95 L398.00,78.77 L398.50,78.59 L399.00,78.41 L399.50,78.23 L400.00,78.05 L400.50,77.87 L401.00,77.68 L401.50,77.50 L402.00,77.32 L402.50,77.14 L403.00,76.96 L403.50,76.78 L404.00,76.60 L404.50,76.42 L405.00,76.24 L405.50,76.06 L406.00,75.87 L406.50,75.69 L407.00,75.51 L407.50,75.33 L408.00,75.15 L408.50,74.97 L409.00,74.79 L409.50,74.61 L410.00,74.43 L410.50,74.25 L411.00,74.06 L411.50,73.88 L412.00,73.70 L412.50,73.52 L413.00,73.34 L413.50,73.16 L414.00,72.98 L414.50,72.80 L415.00,72.61 L415.50,72.43 L416.00,72.25 L416.50,72.07 L417.00,71.89 L417.50,71.71 L418.00,71.53 L418.50,71.34 L419.00,71.16 L419.50,70.98 L420.00,70.80 L420.50,70.62 L421.00,70.44 L421.50,70.26 L421.99,70.08 L422.49,69.89 L422.99,69.71 L423.49,69.53 L423.99,69.35 L424.49,69.17 L424.98,68.99 L425.48,68.81 L425.98,68.63 L426.48,68.44 L426.98,68.26 L427.48,68.08 L427.98,67.90 L428.47,67.72 L428.97,67.54 L429.47,67.36 L429.97,67.17 L430.47,66.99 L430.97,66.81 L431.46,66.63 L431.96,66.45 L432.46,66.27 L432.96,66.08 L433.46,65.90 L433.96,65.72 L434.46,65.54 L434.95,65.36 L435.45,65.18 L435.95,64.99 L436.45,64.81 L436.95,64.63 L437.45,64.45 L437.94,64.27 L438.44,64.09 L438.94,63.90 L439.44,63.72 L439.94,63.54 L440.44,63.36 L440.94,63.18 L441.43,63.00 L441.93,62.81 L442.43,62.63 L442.93,62.45 L443.43,62.27 L443.93,62.09 L444.42,61.91 L444.92,61.72 L445.42,61.54 L445.92,61.36 L446.42,61.18 L446.92,61.00 L447.42,60.82 L447.91,60.63 L448.41,60.45 L448.91,60.27 L449.41,60.09 L449.91,59.91 L450.41,59.73 L450.90,59.54 L451.40,59.36 L451.90,59.18 L452.40,59.00" fill="none" stroke="#00ff00" stroke-width="1.62" stroke-linejoin="round" stroke-linecap="butt"/>
<path d="M32.50,229.50 L152.90,185.30" fill="none" stroke="#0000ff" stroke-width="1.62" stroke-linejoin="round" stroke-linecap="butt"/>
<path d="M152.90,185.30 L165.00,180.90 L165.49,180.73 L165.97,180.55 L166.46,180.38 L166.94,180.21 L167.43,180.03 L167.91,179.86 L168.40,179.69 L168.88,179.52 L169.37,179.35 L169.85,179.17 L170.34,179.00 L170.82,178.83 L171.31,178.66 L171.79,178.49 L172.28,178.31 L172.76,178.14 L173.25,177.97 L173.73,177.79 L174.22,177.62 L174.70,177.44 L175.19,177.27 L175.67,177.09 L176.16,176.91 L176.64,176.74 L177.13,176.56 L177.61,176.38 L178.10,176.20 L178.60,176.01 L179.09,175.83 L179.59,175.64 L180.08,175.45 L180.58,175.26 L181.07,175.07 L181.57,174.88 L182.07,174.69 L182.56,174.50 L183.06,174.30 L183.55,174.11 L184.05,173.92 L184.55,173.72 L185.04,173.53 L185.54,173.33 L186.03,173.14 L186.53,172.94 L187.03,172.75 L187.52,172.56 L188.02,172.36 L188.51,172.17 L189.01,171.98 L189.50,171.79 L190.00,171.60 L190.48,171.42 L190.96,171.23 L191.44,171.05 L191.92,170.86 L192.40,170.68 L192.88,170.50 L193.36,170.31 L193.84,170.13 L194.32,169.95 L194.80,169.77 L195.28,169.59 L195.76,169.42 L196.24,169.24 L196.72,169.07 L197.20,168.90 L197.67,168.73 L198.15,168.57 L198.62,168.41 L199.10,168.24 L199.57,168.08 L200.05,167.92 L200.53,167.77 L201.00,167.61 L201.47,167.46 L201.95,167.30 L202.43,167.15 L202.90,167.00 L203.38,166.85 L203.85,166.70 L204.33,166.55 L204.80,166.40 L205.27,166.25 L205.74,166.11 L206.21,165.97 L206.69,165.82 L207.16,165.68 L207.63,165.54 L208.10,165.40 L208.57,165.27 L209.04,165.13 L209.51,165.00 L209.99,164.87 L210.46,164.74 L210.93,164.62 L211.40,164.50 L211.89,164.38 L212.38,164.27 L212.87,164.16 L213.36,164.06 L213.85,163.96 L214.34,163.86 L214.83,163.77 L215.32,163.68 L215.81,163.59 L216.30,163.50 L216.76,163.41 L217.23,163.33 L217.69,163.25 L218.15,163.17 L218.61,163.10 L219.07,163.03 L219.54,162.96 L220.00,162.90 L220.50,162.84 L221.00,162.78 L221.50,162.72 L222.00,162.67 L222.50,162.63 L223.00,162.61 L223.50,162.60 L224.00,162.60 L224.50,162.61 L225.00,162.63 L225.50,162.66 L226.00,162.70 L226.50,162.75 L227.00,162.82 L227.50,162.90 L228.00,163.00 L228.50,163.11 L229.00,163.24 L229.50,163.38 L230.00,163.52 L230.50,163.68 L231.00,163.84 L231.50,164.00 L232.00,164.17 L232.50,164.36 L233.00,164.56 L233.50,164.76 L234.00,164.96 L234.50,165.16 L235.00,165.34 L235.50,165.50 L235.95,165.64 L236.40,165.78 L236.85,165.93 L237.30,166.05 L237.75,166.16 L238.20,166.25 L238.65,166.29 L239.10,166.30 L239.59,166.25 L240.07,166.16 L240.56,166.03 L241.05,165.88 L241.54,165.71 L242.03,165.53 L242.51,165.36 L243.00,165.20 L243.46,165.04 L243.93,164.87 L244.39,164.68 L244.85,164.49 L245.31,164.31 L245.77,164.17 L246.24,164.06 L246.70,164.00 L247.18,164.02 L247.67,164.12 L248.15,164.28 L248.63,164.46 L249.12,164.64 L249.60,164.80 L250.07,164.95 L250.53,165.12 L251.00,165.29 L251.47,165.44 L251.93,165.55 L252.40,165.60 L252.88,165.56 L253.36,165.43 L253.84,165.25 L254.32,165.06 L254.80,164.90 L255.28,164.74 L255.76,164.56 L256.24,164.39 L256.72,164.26 L257.20,164.20 L257.62,164.24 L258.04,164.35 L258.46,164.50 L258.88,164.66 L259.30,164.80 L259.72,164.94 L260.14,165.10 L260.56,165.25 L260.98,165.36 L261.40,165.40 L261.83,165.37 L262.00,165.34" fill="none" stroke="#ff0000" stroke-width="1.62" stroke-linejoin="round" stroke-linecap="butt"/>
<path d="M262.00,165.34 L262.27,165.29 L262.70,165.17 L263.13,165.04 L263.57,164.91 L264.00,164.80 L264.45,164.68 L264.90,164.55 L265.35,164.41 L265.80,164.29 L266.25,164.22 L266.70,164.20 L267.16,164.27 L267.62,164.43 L268.08,164.62 L268.54,164.83 L269.00,165.00 L269.50,165.17 L270.00,165.36 L270.50,165.54 L271.00,165.66 L271.50,165.70 L271.97,165.65 L272.43,165.55 L272.90,165.40 L273.37,165.23 L273.83,165.05 L274.30,164.90 L274.78,164.74 L275.27,164.55 L275.75,164.36 L276.23,164.19 L276.72,164.06 L277.20,164.00 L277.67,164.00 L278.14,164.04 L278.61,164.12 L279.09,164.22 L279.56,164.34 L280.03,164.47 L280.50,164.60 L280.99,164.76 L281.47,164.95 L281.96,165.16 L282.44,165.38 L282.93,165.58 L283.41,165.76 L283.90,165.90 L284.33,165.99 L284.77,166.06 L285.20,166.10 L285.63,166.10 L286.07,166.07 L286.50,166.00 L287.00,165.87 L287.50,165.69 L288.00,165.48 L288.50,165.26 L289.00,165.02 L289.50,164.80 L290.00,164.60 L290.50,164.41 L291.00,164.21 L291.50,164.01 L292.00,163.82 L292.50,163.63 L293.00,163.47 L293.50,163.32 L294.00,163.20 L294.46,163.11 L294.93,163.03 L295.39,162.96 L295.85,162.89 L296.32,162.84 L296.78,162.80 L297.25,162.76 L297.71,162.73 L298.17,162.71 L298.64,162.70 L299.10,162.70 L299.59,162.70 L300.08,162.72 L300.58,162.74 L301.07,162.76 L301.56,162.80 L302.05,162.84 L302.54,162.89 L303.03,162.94 L303.52,163.00 L304.02,163.06 L304.51,163.13 L305.00,163.20 L305.49,163.28 L305.98,163.35 L306.47,163.44 L306.96,163.52 L307.45,163.61 L307.94,163.70 L308.43,163.79 L308.92,163.88 L309.41,163.97 L309.89,164.07 L310.38,164.17 L310.87,164.27 L311.36,164.37 L311.85,164.47 L312.34,164.58 L312.83,164.68 L313.32,164.79 L313.81,164.89 L314.30,165.00 L314.78,165.11 L315.26,165.22 L315.74,165.33 L316.23,165.44 L316.71,165.56 L317.19,165.67 L317.67,165.79 L318.15,165.91 L318.63,166.04 L319.11,166.16 L319.59,166.28 L320.07,166.41 L320.56,166.53 L321.04,166.65 L321.52,166.78 L322.00,166.90 L322.48,167.02 L322.95,167.15 L323.43,167.27 L323.90,167.40 L324.38,167.53 L324.85,167.65 L325.32,167.78 L325.80,167.91 L326.28,168.04 L326.75,168.17 L327.23,168.29 L327.70,168.42 L328.18,168.54 L328.65,168.66 L329.12,168.78 L329.60,168.90 L330.09,169.02 L330.59,169.14 L331.08,169.27 L331.58,169.39 L332.07,169.51 L332.56,169.64 L333.06,169.76 L333.55,169.88 L334.05,169.99 L334.54,170.11 L335.04,170.22 L335.53,170.33 L336.02,170.43 L336.52,170.53 L337.01,170.63 L337.51,170.72 L338.00,170.80 L338.48,170.88 L338.96,170.95 L339.45,171.03 L339.93,171.10 L340.41,171.17 L340.89,171.24 L341.37,171.30 L341.85,171.37 L342.34,171.43 L342.82,171.49 L343.30,171.55 L343.78,171.60 L344.26,171.65 L344.75,171.70 L345.23,171.75 L345.71,171.79 L346.19,171.84 L346.67,171.87 L347.15,171.91 L347.64,171.94 L348.12,171.97 L348.60,172.00 L349.09,172.02 L349.58,172.03 L350.08,172.03 L350.57,172.02 L351.06,172.01 L351.55,171.98 L352.05,171.95 L352.54,171.92 L353.03,171.88 L353.52,171.84 L354.02,171.79 L354.51,171.75 L355.00,171.70 L355.46,171.65 L355.93,171.60 L356.39,171.55 L356.85,171.49 L357.32,171.42 L357.78,171.35 L358.25,171.27 L358.71,171.19 L359.17,171.10 L359.64,171.00 L360.10,170.90 L360.60,170.79 L361.09,170.67 L361.59,170.56 L362.08,170.44 L362.58,170.32 L363.07,170.20 L363.56,170.08 L364.06,169.95 L364.56,169.83 L365.05,169.70 L365.55,169.57 L366.04,169.44 L366.54,169.30 L367.03,169.17 L367.52,169.03 L368.02,168.89 L368.51,168.74 L369.01,168.60 L369.50,168.45 L370.00,168.30 L370.50,168.14 L371.00,167.99 L371.50,167.82 L372.00,167.66 L372.50,167.49 L373.00,167.32 L373.50,167.15 L374.00,166.98 L374.50,166.80 L375.00,166.62 L375.50,166.44 L376.00,166.26 L376.50,166.08 L377.00,165.90 L377.50,165.72 L378.00,165.53 L378.50,165.35 L379.00,165.17 L379.50,164.98 L380.00,164.80 L380.50,164.62 L380.99,164.44 L381.49,164.25 L381.98,164.07 L382.48,163.88 L382.97,163.70 L383.47,163.51 L383.97,163.32 L384.46,163.14 L384.96,162.95 L385.45,162.76 L385.95,162.57 L386.44,162.38 L386.94,162.19 L387.43,162.01 L387.93,161.82 L388.43,161.63 L388.92,161.44 L389.42,161.25 L389.91,161.06 L390.41,160.87 L390.90,160.69 L391.40,160.50 L391.89,160.32 L392.37,160.13 L392.86,159.95 L393.34,159.77 L393.83,159.59 L394.31,159.40 L394.80,159.22 L395.29,159.04 L395.77,158.86 L396.26,158.67 L396.74,158.49 L397.23,158.31 L397.71,158.12 L398.20,157.94 L398.69,157.76 L399.17,157.58 L399.66,157.40 L400.14,157.21 L400.63,157.03 L401.11,156.85 L401.60,156.67 L402.09,156.49 L402.57,156.30 L403.06,156.12 L403.54,155.94 L404.03,155.76 L404.51,155.58 L405.00,155.40 L405.50,155.22 L405.99,155.03 L406.49,154.85 L406.99,154.66 L407.49,154.48 L407.98,154.29 L408.48,154.11 L408.98,153.92 L409.48,153.74 L409.97,153.55 L410.47,153.37 L410.97,153.18 L411.46,153.00 L411.96,152.81 L412.46,152.63 L412.96,152.44 L413.45,152.26 L413.95,152.08 L414.45,151.89 L414.94,151.71 L415.44,151.52 L415.94,151.34 L416.44,151.16 L416.93,150.98 L417.43,150.79 L417.93,150.61 L418.42,150.43 L418.92,150.25 L419.42,150.06 L419.92,149.88 L420.41,149.70 L420.91,149.52 L421.41,149.34 L421.91,149.16 L422.40,148.98 L422.90,148.80 L423.40,148.62 L423.90,148.44 L424.40,148.26 L424.90,148.08 L425.40,147.90 L425.90,147.72 L426.40,147.54 L426.90,147.36 L427.40,147.18 L427.90,147.00 L428.40,146.82 L428.90,146.65 L429.40,146.47 L429.90,146.29 L430.40,146.11 L430.90,145.93 L431.40,145.75 L431.90,145.58 L432.40,145.40 L432.90,145.22 L433.40,145.04 L433.90,144.86 L434.40,144.69 L434.90,144.51 L435.40,144.33 L435.90,144.15 L436.40,143.98 L436.90,143.80 L437.40,143.62 L437.90,143.44 L438.40,143.27 L438.90,143.09 L439.40,142.91 L439.90,142.73 L440.40,142.56 L440.90,142.38 L441.40,142.20 L441.90,142.03 L442.40,141.85 L442.90,141.67 L443.40,141.49 L443.90,141.32 L444.40,141.14 L444.90,140.96 L445.40,140.79 L445.90,140.61 L446.40,140.43 L446.90,140.25 L447.40,140.08 L447.90,139.90 L448.40,139.72 L448.90,139.54 L449.40,139.37 L449.90,139.19 L450.40,139.01 L450.90,138.83 L451.40,138.66 L451.90,138.48 L452.40,138.30" fill="none" stroke="#00ff00" stroke-width="1.62" stroke-linejoin="round" stroke-linecap="butt"/>
<path d="M32.50,249.50 L152.90,204.80" fill="none" stroke="#0000ff" stroke-width="1.62" stroke-linejoin="round" stroke-linecap="butt"/>
<path d="M152.90,204.80 L153.19,204.69 L153.48,204.57 L153.77,204.46 L154.07,204.34 L154.36,204.23 L154.65,204.11 L154.94,204.00 L155.23,203.88 L155.52,203.76 L155.81,203.65 L156.10,203.53 L156.40,203.42 L156.69,203.30 L156.98,203.19 L157.27,203.08 L157.56,202.96 L157.85,202.85 L158.14,202.74 L158.43,202.63 L158.73,202.52 L159.02,202.41 L159.31,202.31 L159.60,202.20 L159.88,202.10 L160.16,202.00 L160.44,201.90 L160.71,201.81 L160.99,201.72 L161.27,201.62 L161.55,201.53 L161.83,201.45 L162.11,201.36 L162.39,201.28 L162.66,201.21 L162.94,201.13 L163.22,201.06 L163.50,201.00 L163.78,200.94 L164.07,200.88 L164.35,200.83 L164.64,200.77 L164.92,200.73 L165.21,200.69 L165.49,200.65 L165.78,200.61 L166.06,200.58 L166.35,200.55 L166.63,200.53 L166.92,200.51 L167.20,200.50 L167.49,200.49 L167.78,200.48 L168.08,200.48 L168.37,200.49 L168.66,200.49 L168.95,200.51 L169.25,200.52 L169.54,200.54 L169.83,200.56 L170.12,200.59 L170.42,200.62 L170.71,200.66 L171.00,200.70 L171.29,200.74 L171.58,200.79 L171.88,200.84 L172.17,200.90 L172.46,200.96 L172.75,201.02 L173.05,201.09 L173.34,201.16 L173.63,201.24 L173.92,201.32 L174.22,201.41 L174.51,201.50 L174.80,201.60 L175.08,201.70 L175.37,201.81 L175.65,201.92 L175.93,202.04 L176.22,202.16 L176.50,202.29 L176.78,202.43 L177.07,202.57 L177.35,202.72 L177.63,202.87 L177.92,203.03 L178.20,203.20 L178.47,203.37 L178.75,203.55 L179.02,203.74 L179.30,203.93 L179.57,204.13 L179.85,204.34 L180.12,204.55 L180.40,204.76 L180.68,204.97 L180.95,205.18 L181.22,205.39 L181.50,205.60 L181.80,205.83 L182.10,206.07 L182.40,206.31 L182.70,206.56 L183.00,206.79 L183.30,207.01 L183.60,207.20 L183.88,207.37 L184.17,207.53 L184.45,207.68 L184.73,207.79 L185.02,207.87 L185.30,207.90 L185.59,207.88 L185.87,207.84 L186.16,207.76 L186.44,207.66 L186.73,207.53 L187.01,207.37 L187.30,207.20 L187.58,207.01 L187.86,206.79 L188.14,206.55 L188.42,206.30 L188.70,206.04 L188.98,205.78 L189.26,205.52 L189.54,205.26 L189.82,205.02 L190.10,204.80 L190.40,204.58 L190.70,204.36 L191.00,204.16 L191.30,203.97 L191.60,203.80 L191.90,203.64 L192.20,203.50 L192.49,203.37 L192.77,203.25 L193.06,203.14 L193.34,203.06 L193.63,203.00 L193.91,202.98 L194.20,203.00 L194.46,203.07 L194.72,203.17 L194.99,203.31 L195.25,203.47 L195.51,203.64 L195.78,203.83 L196.04,204.02 L196.30,204.20 L196.59,204.43 L196.87,204.70 L197.16,204.99 L197.44,205.27 L197.73,205.52 L198.01,205.70 L198.30,205.80 L198.60,205.80 L198.90,205.71 L199.20,205.56 L199.50,205.38 L199.80,205.18 L200.10,204.98 L200.40,204.80 L200.70,204.61 L201.00,204.38 L201.30,204.13 L201.60,203.90 L201.90,203.71 L202.20,203.60 L202.50,203.60 L202.78,203.69 L203.05,203.84 L203.32,204.04 L203.60,204.27 L203.88,204.53 L204.15,204.79 L204.43,205.06 L204.70,205.30 L204.98,205.52 L205.25,205.69 L205.53,205.80 L205.80,205.85 L206.08,205.81 L206.36,205.68 L206.64,205.49 L206.92,205.24 L207.19,204.97 L207.47,204.69 L207.75,204.41 L208.03,204.16 L208.31,203.96 L208.59,203.82 L208.87,203.76 L209.15,203.80 L209.44,203.94 L209.73,204.15 L210.01,204.40 L210.30,204.68 L210.58,204.96 L210.87,205.21 L211.15,205.43 L211.44,205.58 L211.72,205.64 L212.02,205.59 L212.31,205.44 L212.61,205.22 L212.90,204.96 L213.20,204.68 L213.49,204.41 L213.79,204.18 L214.08,204.01 L214.38,203.95 L214.65,203.99 L214.93,204.13 L215.20,204.33 L215.47,204.56 L215.75,204.82 L216.02,205.06 L216.30,205.27 L216.57,205.41 L216.85,205.47 L217.13,205.42 L217.42,205.27 L217.71,205.05 L217.99,204.80 L218.28,204.55 L218.57,204.33 L218.85,204.17 L219.14,204.10 L219.41,204.15 L219.68,204.28 L219.94,204.48 L220.21,204.70 L220.48,204.93 L220.74,205.13 L221.01,205.27 L221.28,205.33 L221.56,205.28 L221.84,205.13 L222.13,204.91 L222.41,204.68 L222.70,204.46 L222.98,204.29 L223.26,204.22 L223.53,204.27 L223.79,204.41 L224.05,204.60 L224.32,204.82 L224.58,205.01 L224.85,205.16 L225.11,205.22 L225.40,205.16 L225.68,205.00 L225.97,204.79 L226.25,204.57 L226.54,204.40 L226.83,204.32 L227.09,204.38 L227.36,204.52 L227.63,204.72 L227.89,204.91 L228.16,205.07 L228.42,205.13 L228.72,205.06 L229.02,204.89 L229.31,204.67 L229.61,204.49 L229.91,204.40 L230.19,204.47 L230.46,204.63 L230.74,204.82 L231.01,204.99 L231.29,205.06 L231.55,205.00 L231.80,204.86 L232.06,204.69 L232.32,204.54 L232.58,204.47 L232.88,204.55 L233.18,204.73 L233.48,204.91 L233.78,205.00 L234.08,204.93 L234.38,204.77 L234.68,204.60 L234.98,204.52 L235.28,204.59 L235.58,204.73 L235.88,204.88 L236.18,204.95 L236.48,204.90 L236.78,204.77 L237.08,204.63 L237.38,204.57 L237.68,204.62 L237.98,204.73 L238.28,204.85 L238.58,204.92 L238.84,204.92 L239.11,204.91 L239.38,204.89 L239.65,204.86 L239.92,204.83 L240.19,204.80 L240.46,204.78 L240.73,204.76 L241.00,204.75 L241.30,204.75 L241.60,204.75 L241.90,204.74 L242.20,204.74 L242.50,204.74 L242.80,204.74 L243.10,204.74 L243.40,204.74 L243.70,204.74 L244.00,204.73 L244.30,204.73 L244.60,204.73 L244.90,204.73 L245.20,204.73 L245.50,204.73 L245.80,204.73 L246.10,204.73 L246.40,204.73 L246.70,204.73 L247.00,204.73 L247.30,204.73 L247.60,204.73 L247.90,204.73 L248.20,204.73 L248.50,204.73 L248.80,204.73 L249.10,204.73 L249.40,204.73 L249.70,204.73 L250.00,204.73 L250.30,204.73 L250.60,204.73 L250.90,204.73 L251.20,204.73 L251.50,204.73 L251.80,204.74 L252.10,204.74 L252.40,204.74 L252.70,204.74 L253.00,204.74 L253.30,204.74 L253.60,204.74 L253.90,204.74 L254.20,204.74 L254.50,204.74 L254.80,204.74 L255.10,204.74 L255.40,204.74 L255.70,204.74 L256.00,204.74 L256.30,204.75 L256.60,204.75 L256.90,204.75 L257.20,204.75 L257.50,204.75 L257.80,204.75 L258.10,204.75 L258.40,204.75 L258.70,204.75 L259.00,204.75 L259.30,204.75 L259.60,204.75 L259.90,204.75 L260.20,204.75 L260.50,204.75 L260.80,204.75 L261.10,204.75 L261.40,204.75 L261.70,204.75 L262.00,204.75" fill="none" stroke="#ff0000" stroke-width="1.62" stroke-linejoin="round" stroke-linecap="butt"/>
<path d="M262.00,204.75 L262.30,204.75 L262.60,204.75 L262.90,204.75 L263.19,204.75 L263.49,204.75 L263.79,204.75 L264.09,204.75 L264.39,204.75 L264.69,204.74 L264.99,204.74 L265.29,204.74 L265.58,204.74 L265.88,204.74 L266.18,204.74 L266.48,204.74 L266.78,204.74 L267.08,204.74 L267.38,204.74 L267.68,204.73 L267.97,204.73 L268.27,204.73 L268.57,204.73 L268.87,204.73 L269.17,204.73 L269.47,204.73 L269.77,204.73 L270.06,204.72 L270.36,204.72 L270.66,204.72 L270.96,204.72 L271.26,204.72 L271.56,204.72 L271.86,204.72 L272.16,204.72 L272.45,204.71 L272.75,204.71 L273.05,204.71 L273.35,204.71 L273.65,204.71 L273.95,204.71 L274.25,204.71 L274.55,204.71 L274.84,204.70 L275.14,204.70 L275.44,204.70 L275.74,204.70 L276.04,204.70 L276.34,204.70 L276.64,204.70 L276.94,204.70 L277.23,204.70 L277.53,204.70 L277.83,204.70 L278.13,204.70 L278.43,204.69 L278.73,204.69 L279.03,204.69 L279.32,204.69 L279.62,204.69 L279.92,204.69 L280.22,204.69 L280.52,204.69 L280.82,204.69 L281.12,204.69 L281.42,204.69 L281.71,204.69 L282.01,204.69 L282.31,204.69 L282.61,204.69 L282.91,204.69 L283.21,204.69 L283.51,204.70 L283.81,204.70 L284.10,204.70 L284.40,204.70 L284.70,204.70 L285.00,204.70 L285.25,204.73 L285.50,204.79 L285.75,204.84 L286.00,204.85 L286.28,204.78 L286.56,204.67 L286.84,204.56 L287.12,204.52 L287.37,204.57 L287.62,204.67 L287.87,204.79 L288.12,204.89 L288.37,204.92 L288.66,204.86 L288.94,204.74 L289.22,204.59 L289.50,204.47 L289.78,204.43 L290.04,204.48 L290.30,204.60 L290.57,204.75 L290.83,204.89 L291.09,205.00 L291.35,205.03 L291.65,204.97 L291.94,204.82 L292.23,204.65 L292.53,204.47 L292.82,204.34 L293.12,204.29 L293.40,204.36 L293.68,204.49 L293.96,204.67 L294.24,204.86 L294.53,205.03 L294.81,205.16 L295.09,205.19 L295.37,205.14 L295.64,205.00 L295.92,204.82 L296.19,204.62 L296.47,204.42 L296.75,204.25 L297.02,204.13 L297.30,204.10 L297.57,204.16 L297.85,204.29 L298.13,204.47 L298.40,204.69 L298.68,204.91 L298.95,205.12 L299.23,205.29 L299.50,205.40 L299.78,205.44 L300.05,205.38 L300.33,205.24 L300.61,205.05 L300.88,204.82 L301.16,204.58 L301.44,204.34 L301.72,204.12 L301.99,203.95 L302.27,203.83 L302.55,203.80 L302.83,203.86 L303.11,204.00 L303.40,204.20 L303.68,204.44 L303.96,204.70 L304.24,204.98 L304.53,205.23 L304.81,205.46 L305.09,205.64 L305.37,205.76 L305.65,205.80 L305.94,205.74 L306.23,205.61 L306.52,205.42 L306.81,205.18 L307.10,204.92 L307.39,204.64 L307.68,204.36 L307.97,204.10 L308.26,203.86 L308.55,203.68 L308.84,203.55 L309.13,203.50 L309.22,204.60 L309.30,205.70 L309.59,205.64 L309.87,205.39 L310.16,205.03 L310.44,204.63 L310.73,204.26 L311.01,204.00 L311.30,203.90 L311.59,203.94 L311.87,204.04 L312.16,204.18 L312.44,204.36 L312.73,204.56 L313.01,204.78 L313.30,205.00 L313.59,205.22 L313.87,205.43 L314.16,205.62 L314.44,205.79 L314.73,205.91 L315.01,205.98 L315.30,206.00 L315.60,205.94 L315.90,205.81 L316.20,205.63 L316.50,205.39 L316.80,205.13 L317.10,204.84 L317.40,204.55 L317.70,204.27 L318.00,204.02 L318.30,203.80 L318.60,203.63 L318.90,203.53 L319.20,203.50 L319.48,203.54 L319.76,203.64 L320.05,203.78 L320.33,203.96 L320.61,204.17 L320.89,204.41 L321.18,204.66 L321.46,204.92 L321.74,205.18 L322.02,205.43 L322.31,205.68 L322.59,205.90 L322.87,206.10 L323.15,206.27 L323.44,206.40 L323.72,206.48 L324.00,206.50 L324.29,206.47 L324.59,206.39 L324.88,206.26 L325.18,206.10 L325.47,205.91 L325.77,205.69 L326.06,205.45 L326.36,205.20 L326.65,204.95 L326.95,204.69 L327.24,204.44 L327.54,204.19 L327.83,203.97 L328.13,203.77 L328.42,203.59 L328.72,203.45 L329.01,203.35 L329.31,203.30 L329.60,203.30 L329.90,203.35 L330.19,203.44 L330.49,203.56 L330.78,203.71 L331.08,203.89 L331.37,204.09 L331.67,204.31 L331.97,204.55 L332.26,204.80 L332.56,205.06 L332.85,205.33 L333.15,205.60 L333.44,205.87 L333.74,206.13 L334.03,206.38 L334.33,206.63 L334.63,206.86 L334.92,207.06 L335.22,207.25 L335.51,207.41 L335.81,207.54 L336.10,207.64 L336.40,207.70 L336.69,207.71 L336.97,207.68 L337.26,207.61 L337.55,207.49 L337.84,207.34 L338.12,207.17 L338.41,206.97 L338.70,206.75 L338.99,206.52 L339.27,206.27 L339.56,206.03 L339.85,205.78 L340.14,205.54 L340.43,205.31 L340.71,205.10 L341.00,204.90 L341.29,204.71 L341.57,204.52 L341.86,204.31 L342.14,204.11 L342.43,203.90 L342.71,203.69 L343.00,203.48 L343.29,203.27 L343.57,203.07 L343.86,202.87 L344.14,202.69 L344.43,202.51 L344.71,202.35 L345.00,202.20 L345.28,202.07 L345.56,201.97 L345.83,201.88 L346.11,201.81 L346.39,201.76 L346.67,201.72 L346.94,201.70 L347.22,201.69 L347.50,201.70 L347.79,201.72 L348.08,201.74 L348.37,201.77 L348.66,201.80 L348.94,201.83 L349.23,201.87 L349.52,201.92 L349.81,201.96 L350.10,202.02 L350.39,202.07 L350.68,202.13 L350.97,202.19 L351.26,202.25 L351.54,202.32 L351.83,202.38 L352.12,202.45 L352.41,202.53 L352.70,202.60 L352.97,202.67 L353.25,202.76 L353.52,202.84 L353.80,202.94 L354.07,203.04 L354.35,203.14 L354.62,203.26 L354.90,203.37 L355.18,203.50 L355.45,203.63 L355.73,203.76 L356.00,203.90 L356.28,204.05 L356.56,204.20 L356.85,204.36 L357.13,204.53 L357.41,204.70 L357.69,204.88 L357.97,205.07 L358.25,205.26 L358.54,205.47 L358.82,205.68 L359.10,205.90 L359.39,206.14 L359.68,206.38 L359.97,206.64 L360.26,206.90 L360.55,207.18 L360.84,207.46 L361.13,207.76 L361.42,208.06 L361.71,208.37 L362.00,208.70 L362.26,209.01 L362.52,209.33 L362.79,209.68 L363.05,210.04 L363.31,210.41 L363.58,210.79 L363.84,211.19 L364.10,211.60 L364.37,212.04 L364.64,212.49 L364.91,212.96 L365.19,213.44 L365.46,213.95 L365.73,214.47 L366.00,215.00 L366.26,215.53 L366.52,216.08 L366.78,216.66 L367.04,217.30 L367.30,218.00 L367.55,218.77 L367.80,219.64 L368.05,220.56 L368.30,221.50 L368.53,222.40 L368.77,223.34 L369.00,224.30 L369.25,225.34 L369.50,226.40 L369.75,224.92 L370.00,223.50 L370.30,221.89 L370.60,220.50 L370.93,219.26 L371.27,218.16 L371.60,217.20 L371.95,216.31 L372.30,215.49 L372.65,214.76 L373.00,214.10 L373.38,213.45 L373.77,212.83 L374.15,212.25 L374.53,211.70 L374.92,211.19 L375.30,210.70 L375.65,210.28 L376.00,209.89 L376.35,209.51 L376.70,209.16 L377.05,208.81 L377.40,208.47 L377.75,208.14 L378.10,207.80 L378.46,207.45 L378.83,207.11 L379.19,206.77 L379.55,206.44 L379.91,206.12 L380.27,205.80 L380.64,205.49 L381.00,205.20 L381.39,204.89 L381.78,204.60 L382.17,204.31 L382.56,204.02 L382.94,203.75 L383.33,203.47 L383.72,203.21 L384.11,202.95 L384.50,202.70 L384.89,202.45 L385.29,202.20 L385.68,201.94 L386.07,201.69 L386.47,201.45 L386.86,201.20 L387.26,200.96 L387.65,200.72 L388.04,200.48 L388.44,200.24 L388.83,200.01 L389.23,199.78 L389.62,199.55 L390.01,199.33 L390.41,199.11 L390.80,198.90 L391.20,198.69 L391.60,198.48 L392.00,198.27 L392.40,198.06 L392.80,197.86 L393.20,197.66 L393.60,197.46 L394.00,197.26 L394.40,197.06 L394.80,196.87 L395.20,196.67 L395.60,196.48 L396.00,196.29 L396.40,196.10 L396.80,195.91 L397.20,195.72 L397.60,195.53 L398.00,195.34 L398.40,195.15 L398.80,194.96 L399.20,194.78 L399.60,194.59 L400.00,194.40 L400.40,194.21 L400.80,194.02 L401.20,193.84 L401.60,193.65 L402.00,193.47 L402.40,193.28 L402.80,193.10 L403.20,192.92 L403.60,192.74 L404.00,192.55 L404.40,192.37 L404.80,192.20 L405.20,192.02 L405.60,191.84 L406.00,191.66 L406.40,191.49 L406.80,191.32 L407.20,191.14 L407.60,190.97 L408.00,190.80 L408.39,190.63 L408.78,190.47 L409.17,190.30 L409.55,190.14 L409.94,189.98 L410.33,189.81 L410.72,189.65 L411.11,189.49 L411.50,189.32 L411.88,189.16 L412.27,189.00 L412.66,188.84 L413.05,188.68 L413.44,188.52 L413.83,188.36 L414.22,188.21 L414.60,188.05 L414.99,187.89 L415.38,187.74 L415.77,187.59 L416.16,187.44 L416.55,187.29 L416.93,187.14 L417.32,186.99 L417.71,186.84 L418.10,186.70 L418.50,186.55 L418.90,186.41 L419.29,186.26 L419.69,186.12 L420.09,185.97 L420.49,185.83 L420.89,185.68 L421.28,185.54 L421.68,185.39 L422.08,185.25 L422.48,185.11 L422.88,184.97 L423.27,184.83 L423.67,184.68 L424.07,184.54 L424.47,184.40 L424.86,184.26 L425.26,184.12 L425.66,183.98 L426.06,183.84 L426.46,183.70 L426.85,183.57 L427.25,183.43 L427.65,183.29 L428.05,183.15 L428.45,183.01 L428.84,182.87 L429.24,182.74 L429.64,182.60 L430.04,182.46 L430.44,182.32 L430.83,182.19 L431.23,182.05 L431.63,181.91 L432.03,181.78 L432.43,181.64 L432.82,181.50 L433.22,181.37 L433.62,181.23 L434.02,181.09 L434.41,180.96 L434.81,180.82 L435.21,180.68 L435.61,180.55 L436.01,180.41 L436.40,180.27 L436.80,180.14 L437.20,180.00 L437.60,179.86 L438.00,179.73 L438.40,179.59 L438.80,179.45 L439.20,179.32 L439.60,179.18 L440.00,179.04 L440.40,178.91 L440.80,178.77 L441.20,178.64 L441.60,178.50 L442.00,178.37 L442.40,178.24 L442.80,178.10 L443.20,177.97 L443.60,177.83 L444.00,177.70 L444.40,177.57 L444.80,177.43 L445.20,177.30 L445.60,177.17 L446.00,177.03 L446.40,176.90 L446.80,176.77 L447.20,176.63 L447.60,176.50 L448.00,176.37 L448.40,176.24 L448.80,176.10 L449.20,175.97 L449.60,175.84 L450.00,175.70 L450.40,175.57 L450.80,175.44 L451.20,175.30 L451.60,175.17 L452.00,175.03 L452.40,174.90" fill="none" stroke="#00ff00" stroke-width="1.62" stroke-linejoin="round" stroke-linecap="butt"/>
<path d="M32.50,264.90 L152.90,220.80" fill="none" stroke="#0000ff" stroke-width="1.62" stroke-linejoin="round" stroke-linecap="butt"/>
<polygon points="199.00,231.01 200.00,231.12 201.00,231.24 202.00,231.35 203.00,231.47 204.00,231.58 205.00,231.70 206.00,231.89 207.00,232.08 208.00,232.27 209.00,232.46 210.00,232.65 211.00,232.84 212.00,233.03 213.00,233.22 214.00,233.41 215.00,233.60 216.00,233.80 217.00,233.99 218.00,234.15 219.00,234.28 220.00,234.41 221.00,234.54 222.00,234.67 223.00,234.80 224.00,234.93 225.00,235.05 226.00,235.18 227.00,235.31 228.00,235.44 229.00,235.57 230.00,235.70 231.00,235.76 232.00,235.82 233.00,235.88 234.00,235.94 235.00,236.00 236.00,236.06 237.00,236.12 238.00,236.18 239.00,236.24 240.00,236.30 241.00,236.31 242.00,236.32 243.00,236.33 244.00,236.34 245.00,236.35 246.00,236.35 247.00,236.36 248.00,236.37 249.00,236.38 250.00,236.39 251.00,236.40 252.00,236.41 253.00,236.42 254.00,236.43 255.00,236.44 256.00,236.45 257.00,236.45 258.00,236.46 259.00,236.47 260.00,236.48 261.00,236.49 262.00,236.50 262.00,236.60 261.00,236.59 260.00,236.58 259.00,236.57 258.00,236.56 257.00,236.55 256.00,236.55 255.00,236.54 254.00,236.53 253.00,236.52 252.00,236.54 251.00,236.55 250.00,236.56 249.00,236.58 248.00,236.59 247.00,236.60 246.00,236.62 245.00,236.63 244.00,236.65 243.00,236.66 242.00,236.67 241.00,236.69 240.00,236.70 239.00,236.80 238.00,236.90 237.00,237.00 236.00,237.10 235.00,237.20 234.00,237.30 233.00,237.40 232.00,237.50 231.00,237.60 230.00,237.70 229.00,237.88 228.00,238.05 227.00,238.23 226.00,238.41 225.00,238.59 224.00,238.76 223.00,238.94 222.00,239.12 221.00,239.30 220.00,239.47 219.00,239.65 218.00,239.83 217.00,240.09 216.00,240.41 215.00,240.72 214.00,241.04 213.00,241.36 212.00,241.67 211.00,241.99 210.00,242.31 209.00,242.82 208.00,243.43 207.00,244.03 206.00,244.64 205.00,245.24 204.00,245.95 203.00,246.67 202.00,247.38 201.00,248.58 200.00,250.18 199.00,253.36" fill="#ff0000"/>
<polygon points="183.00,228.28 186.00,228.93 189.00,229.50 192.00,229.99 195.00,230.40 197.00,230.58 199.50,230.87 199.50,250.00 197.00,247.00 195.00,243.00 192.00,238.50 189.00,234.50 186.00,231.50 183.00,229.00" fill="#ff0000"/>
<polygon points="322.50,230.86 326.00,230.60 328.00,230.45 330.00,230.10 332.50,229.59 335.00,229.23 338.00,228.66 341.00,228.06 341.00,228.50 338.00,230.50 335.00,233.00 332.50,236.00 330.00,240.00 328.00,244.00 326.00,247.50 322.50,248.00" fill="#00ff00"/>
<polygon points="262.00,236.50 263.00,236.47 264.00,236.44 265.00,236.41 266.00,236.38 267.00,236.35 268.00,236.32 269.00,236.28 270.00,236.25 271.00,236.22 272.00,236.19 273.00,236.16 274.00,236.13 275.00,236.10 276.00,236.04 277.00,235.99 278.00,235.93 279.00,235.87 280.00,235.81 281.00,235.76 282.00,235.70 283.00,235.64 284.00,235.58 285.00,235.53 286.00,235.47 287.00,235.41 288.00,235.34 289.00,235.27 290.00,235.20 291.00,235.13 292.00,235.06 293.00,234.99 294.00,234.92 295.00,234.85 296.00,234.78 297.00,234.71 298.00,234.64 299.00,234.57 300.00,234.50 301.00,234.36 302.00,234.21 303.00,234.07 304.00,233.93 305.00,233.79 306.00,233.64 307.00,233.48 308.00,233.32 309.00,233.15 310.00,232.99 311.00,232.83 312.00,232.66 313.00,232.50 314.00,232.33 315.00,232.17 316.00,232.01 317.00,231.86 318.00,231.71 319.00,231.55 320.00,231.40 321.00,231.25 322.00,231.10 323.00,231.03 323.00,248.22 322.00,247.23 321.00,246.42 320.00,245.61 319.00,244.79 318.00,243.98 317.00,243.44 316.00,242.93 315.00,242.42 314.00,241.91 313.00,241.44 312.00,241.12 311.00,240.81 310.00,240.50 309.00,240.25 308.00,240.00 307.00,239.75 306.00,239.50 305.00,239.28 304.00,239.07 303.00,238.85 302.00,238.63 301.00,238.47 300.00,238.39 299.00,238.31 298.00,238.23 297.00,238.16 296.00,238.08 295.00,238.00 294.00,237.94 293.00,237.87 292.00,237.81 291.00,237.74 290.00,237.68 289.00,237.62 288.00,237.55 287.00,237.49 286.00,237.43 285.00,237.37 284.00,237.32 283.00,237.26 282.00,237.20 281.00,237.14 280.00,237.09 279.00,237.03 278.00,236.97 277.00,236.91 276.00,236.86 275.00,236.80 274.00,236.77 273.00,236.74 272.00,236.71 271.00,236.68 270.00,236.65 269.00,236.62 268.00,236.58 267.00,236.55 266.00,236.52 265.00,236.51 264.00,236.54 263.00,236.57 262.00,236.60" fill="#00ff00"/>
<path d="M152.90,220.80 L152.98,220.77 L153.06,220.73 L153.14,220.70 L153.22,220.66 L153.30,220.62 L153.38,220.57 L153.46,220.53 L153.55,220.48 L153.63,220.44 L153.71,220.39 L153.79,220.34 L153.87,220.29 L153.95,220.24 L154.03,220.20 L154.11,220.15 L154.19,220.10 L154.27,220.06 L154.35,220.01 L154.43,219.97 L154.51,219.93 L154.59,219.89 L154.67,219.86 L154.75,219.83 L154.84,219.80 L154.92,219.77 L155.00,219.75 L155.08,219.73 L155.16,219.72 L155.24,219.71 L155.32,219.70 L155.40,219.70 L155.48,219.70 L155.56,219.71 L155.64,219.72 L155.72,219.74 L155.80,219.77 L155.88,219.80 L155.96,219.83 L156.04,219.88 L156.12,219.92 L156.20,219.97 L156.28,220.03 L156.36,220.09 L156.44,220.16 L156.52,220.23 L156.60,220.30 L156.68,220.38 L156.76,220.47 L156.84,220.55 L156.92,220.65 L157.00,220.74 L157.08,220.84 L157.16,220.95 L157.24,221.05 L157.32,221.16 L157.40,221.27 L157.48,221.39 L157.56,221.51 L157.64,221.63 L157.72,221.75 L157.80,221.88 L157.88,222.00 L157.96,222.13 L158.04,222.26 L158.12,222.39 L158.20,222.52 L158.28,222.65 L158.36,222.78 L158.44,222.92 L158.52,223.05 L158.60,223.18 L158.68,223.31 L158.76,223.44 L158.84,223.57 L158.92,223.70 L159.00,223.82 L159.08,223.95 L159.16,224.07 L159.24,224.19 L159.32,224.31 L159.40,224.42 L159.48,224.54 L159.56,224.65 L159.64,224.75 L159.72,224.86 L159.80,224.96 L159.88,225.05 L159.96,225.15 L160.04,225.23 L160.12,225.32 L160.20,225.40 L160.28,225.47 L160.36,225.54 L160.44,225.61 L160.52,225.67 L160.60,225.73 L160.68,225.78 L160.76,225.82 L160.84,225.87 L160.92,225.90 L161.00,225.93 L161.08,225.96 L161.16,225.98 L161.24,225.99 L161.32,226.00 L161.40,226.00 L161.48,225.97 L161.56,225.93 L161.65,225.88 L161.73,225.82 L161.81,225.76 L161.89,225.68 L161.97,225.60 L162.06,225.51 L162.14,225.42 L162.22,225.32 L162.30,225.21 L162.38,225.10 L162.47,224.98 L162.55,224.86 L162.63,224.74 L162.71,224.61 L162.79,224.48 L162.88,224.35 L162.96,224.22 L163.04,224.09 L163.12,223.97 L163.21,223.84 L163.29,223.72 L163.37,223.60 L163.45,223.48 L163.53,223.37 L163.62,223.27 L163.70,223.17 L163.78,223.07 L163.86,222.99 L163.94,222.91 L164.03,222.84 L164.11,222.78 L164.19,222.72 L164.27,222.68 L164.35,222.64 L164.44,222.62 L164.52,222.60 L164.60,222.60 L164.68,222.61 L164.76,222.62 L164.84,222.65 L164.92,222.69 L165.00,222.74 L165.08,222.80 L165.16,222.87 L165.24,222.96 L165.32,223.05 L165.40,223.15 L165.48,223.26 L165.56,223.39 L165.64,223.52 L165.72,223.65 L165.81,223.80 L165.89,223.96 L165.97,224.12 L166.05,224.28 L166.13,224.46 L166.21,224.64 L166.29,224.82 L166.37,225.01 L166.45,225.20 L166.53,225.40 L166.61,225.60 L166.69,225.80 L166.77,226.00 L166.85,226.20 L166.93,226.40 L167.01,226.60 L167.09,226.80 L167.17,227.00 L167.25,227.20 L167.33,227.39 L167.41,227.58 L167.49,227.76 L167.57,227.94 L167.65,228.12 L167.73,228.28 L167.81,228.44 L167.89,228.60 L167.97,228.75 L168.06,228.88 L168.14,229.01 L168.22,229.14 L168.30,229.25 L168.38,229.35 L168.46,229.44 L168.54,229.53 L168.62,229.60 L168.70,229.66 L168.78,229.71 L168.86,229.75 L168.94,229.78 L169.02,229.79 L169.10,229.80 L169.18,229.70 L169.26,229.59 L169.34,229.46 L169.42,229.33 L169.50,229.18 L169.58,229.03 L169.66,228.86 L169.74,228.68 L169.82,228.50 L169.90,228.31 L169.98,228.11 L170.06,227.91 L170.14,227.71 L170.22,227.50 L170.30,227.29 L170.38,227.08 L170.46,226.87 L170.54,226.67 L170.62,226.46 L170.70,226.27 L170.78,226.08 L170.86,225.89 L170.94,225.72 L171.02,225.55 L171.10,225.39 L171.18,225.25 L171.26,225.12 L171.34,225.00 L171.42,224.90 L171.50,224.81 L171.58,224.73 L171.66,224.68 L171.74,224.63 L171.82,224.61 L171.90,224.60 L171.98,224.61 L172.06,224.66 L172.15,224.73 L172.23,224.82 L172.31,224.95 L172.39,225.10 L172.47,225.27 L172.55,225.47 L172.64,225.68 L172.72,225.92 L172.80,226.18 L172.88,226.46 L172.96,226.75 L173.05,227.05 L173.13,227.37 L173.21,227.69 L173.29,228.02 L173.37,228.36 L173.45,228.69 L173.54,229.03 L173.62,229.37 L173.70,229.70 L173.78,230.03 L173.86,230.35 L173.95,230.65 L174.03,230.95 L174.11,231.24 L174.19,231.51 L174.27,231.76 L174.35,232.00 L174.44,232.22 L174.52,232.42 L174.60,232.60 L174.68,232.36 L174.76,232.11 L174.85,231.84 L174.93,231.56 L175.01,231.28 L175.09,230.98 L175.18,230.68 L175.26,230.37 L175.34,230.06 L175.42,229.75 L175.50,229.44 L175.59,229.14 L175.67,228.83 L175.75,228.54 L175.83,228.25 L175.91,227.98 L176.00,227.72 L176.08,227.47 L176.16,227.24 L176.24,227.03 L176.32,226.84 L176.41,226.68 L176.49,226.53 L176.57,226.42 L176.65,226.32 L176.74,226.25 L176.82,226.21 L176.90,226.20 L176.98,226.22 L177.06,226.29 L177.14,226.39 L177.22,226.54 L177.30,226.72 L177.38,226.95 L177.46,227.21 L177.54,227.51 L177.62,227.84 L177.70,228.20 L177.78,228.58 L177.86,228.99 L177.94,229.43 L178.02,229.88 L178.10,230.35 L178.18,230.83 L178.26,231.31 L178.34,231.81 L178.42,232.31 L178.50,232.80 L178.58,233.30 L178.66,233.79 L178.74,234.27 L178.82,234.74 L178.90,235.20 L178.98,234.70 L179.06,234.19 L179.15,233.67 L179.23,233.16 L179.31,232.65 L179.39,232.15 L179.47,231.66 L179.55,231.18 L179.64,230.71 L179.72,230.27 L179.80,229.85 L179.88,229.45 L179.96,229.08 L180.05,228.74 L180.13,228.44 L180.21,228.17 L180.29,227.94 L180.37,227.75 L180.45,227.60 L180.54,227.49 L180.62,227.42 L180.70,227.40 L180.78,227.43 L180.86,227.53 L180.95,227.68 L181.03,227.90 L181.11,228.17 L181.19,228.50 L181.27,228.89 L181.35,229.33 L181.44,229.81 L181.52,230.34 L181.60,230.91 L181.68,231.52 L181.76,232.16 L181.85,232.82 L181.93,233.51 L182.01,234.22 L182.09,234.94 L182.17,235.67 L182.25,236.41 L182.34,237.14 L182.42,237.88 L182.50,238.60 L182.58,237.93 L182.66,237.26 L182.75,236.58 L182.83,235.91 L182.91,235.23 L182.99,234.57 L183.07,233.92 L183.15,233.29 L183.24,232.67 L183.32,232.09 L183.40,231.53 L183.48,231.01 L183.56,230.52 L183.65,230.07 L183.73,229.67 L183.81,229.32 L183.89,229.01 L183.97,228.76 L184.05,228.56 L184.14,228.42 L184.22,228.33 L184.30,228.30 L184.38,228.34 L184.47,228.48 L184.55,228.70 L184.64,229.01 L184.72,229.40 L184.81,229.88 L184.89,230.43 L184.97,231.06 L185.06,231.76 L185.14,232.53 L185.23,233.35 L185.31,234.23 L185.39,235.17 L185.48,236.14 L185.56,237.15 L185.65,238.18 L185.73,239.24 L185.82,240.32 L185.90,241.40 L185.98,240.31 L186.07,239.23 L186.15,238.16 L186.23,237.12 L186.32,236.12 L186.40,235.15 L186.48,234.23 L186.57,233.37 L186.65,232.56 L186.73,231.82 L186.82,231.16 L186.90,230.57 L186.98,230.07 L187.07,229.65 L187.15,229.33 L187.23,229.09 L187.32,228.95 L187.40,228.90 L187.48,228.97 L187.56,229.17 L187.65,229.51 L187.73,229.99 L187.81,230.59 L187.89,231.31 L187.98,232.15 L188.06,233.10 L188.14,234.15 L188.22,235.30 L188.31,236.52 L188.39,237.82 L188.47,239.18 L188.55,240.59 L188.64,242.04 L188.72,243.51 L188.80,245.00 L188.88,243.47 L188.96,241.96 L189.04,240.47 L189.12,239.03 L189.21,237.65 L189.29,236.33 L189.37,235.10 L189.45,233.97 L189.53,232.94 L189.61,232.03 L189.69,231.24 L189.78,230.59 L189.86,230.07 L189.94,229.70 L190.02,229.48 L190.10,229.40 L190.18,229.49 L190.26,229.76 L190.34,230.21 L190.43,230.84 L190.51,231.63 L190.59,232.59 L190.67,233.69 L190.75,234.94 L190.83,236.31 L190.91,237.80 L190.99,239.39 L191.07,241.07 L191.16,242.81 L191.24,244.61 L191.32,246.45 L191.40,248.30 L191.48,246.49 L191.56,244.69 L191.64,242.93 L191.72,241.22 L191.81,239.58 L191.89,238.02 L191.97,236.56 L192.05,235.22 L192.13,234.00 L192.21,232.92 L192.29,231.98 L192.38,231.21 L192.46,230.60 L192.54,230.16 L192.62,229.89 L192.70,229.80 L192.78,229.96 L192.87,230.45 L192.95,231.26 L193.04,232.38 L193.12,233.78 L193.21,235.46 L193.29,237.38 L193.38,239.52 L193.46,241.84 L193.55,244.32 L193.63,246.92 L193.72,249.59 L193.80,252.30 L193.88,249.62 L193.97,246.98 L194.05,244.42 L194.14,241.98 L194.22,239.68 L194.31,237.57 L194.39,235.67 L194.48,234.02 L194.56,232.63 L194.65,231.53 L194.73,230.73 L194.82,230.25 L194.90,230.09 L194.98,230.33 L195.07,231.07 L195.15,232.28 L195.23,233.95 L195.32,236.04 L195.40,238.53 L195.48,241.36 L195.57,244.49 L195.65,247.87 L195.73,251.44 L195.82,255.14 L195.90,258.90 L195.99,255.70 L196.07,252.53 L196.16,249.45 L196.24,246.49 L196.33,243.68 L196.41,241.06 L196.50,238.67 L196.59,236.53 L196.67,234.68 L196.76,233.12 L196.84,231.90 L196.93,231.01 L197.01,230.47 L197.10,230.29 L197.18,230.50 L197.27,231.12 L197.35,232.15 L197.44,233.57 L197.52,235.36 L197.61,237.49 L197.69,239.93 L197.78,242.65 L197.86,245.60 L197.95,248.76 L198.03,252.05 L198.12,255.45 L198.20,258.90 L198.29,254.82 L198.37,250.83 L198.46,247.00 L198.55,243.41 L198.63,240.13 L198.72,237.24 L198.80,234.79 L198.89,232.83 L198.98,231.40 L199.06,230.54 L199.15,230.24 L199.24,230.45 L199.32,231.07 L199.41,232.08 L199.50,233.47 L199.58,235.21 L199.67,237.27 L199.75,239.59 L199.84,242.14 L199.93,244.86 L200.01,247.70 L200.10,250.59 L200.18,247.77 L200.27,245.01 L200.35,242.36 L200.44,239.88 L200.52,237.62 L200.60,235.62 L200.69,233.93 L200.77,232.58 L200.85,231.59 L200.94,230.99 L201.02,230.79 L201.11,230.96 L201.19,231.48 L201.27,232.34 L201.36,233.52 L201.44,235.00 L201.52,236.74 L201.61,238.71 L201.69,240.86 L201.78,243.17 L201.86,245.57 L201.94,248.03 L202.02,245.67 L202.11,243.36 L202.19,241.15 L202.27,239.08 L202.35,237.19 L202.43,235.52 L202.51,234.11 L202.59,232.98 L202.67,232.15 L202.76,231.65 L202.84,231.48 L202.92,231.63 L203.00,232.09 L203.08,232.84 L203.16,233.88 L203.24,235.17 L203.32,236.69 L203.41,238.41 L203.49,240.30 L203.57,242.32 L203.65,244.43 L203.73,246.58 L203.82,244.18 L203.90,241.84 L203.99,239.62 L204.08,237.57 L204.16,235.74 L204.25,234.18 L204.34,232.92 L204.42,232.00 L204.51,231.44 L204.60,231.25 L204.68,231.42 L204.77,231.93 L204.86,232.75 L204.94,233.87 L205.03,235.27 L205.12,236.91 L205.20,238.75 L205.29,240.73 L205.38,242.83 L205.46,244.97 L205.55,242.84 L205.63,240.76 L205.72,238.78 L205.80,236.96 L205.89,235.33 L205.97,233.94 L206.05,232.83 L206.14,232.01 L206.22,231.51 L206.31,231.34 L206.39,231.50 L206.47,231.98 L206.56,232.76 L206.64,233.82 L206.73,235.15 L206.81,236.70 L206.89,238.44 L206.98,240.32 L207.06,242.31 L207.15,244.34 L207.23,242.42 L207.31,240.54 L207.39,238.75 L207.47,237.10 L207.55,235.63 L207.64,234.38 L207.72,233.37 L207.80,232.63 L207.88,232.18 L207.96,232.03 L208.04,232.17 L208.13,232.59 L208.21,233.29 L208.29,234.24 L208.37,235.42 L208.45,236.81 L208.53,238.36 L208.62,240.04 L208.70,241.81 L208.78,243.63 L208.87,241.62 L208.95,239.67 L209.04,237.85 L209.13,236.20 L209.22,234.77 L209.31,233.61 L209.39,232.76 L209.48,232.24 L209.57,232.06 L209.66,232.22 L209.75,232.67 L209.83,233.42 L209.92,234.43 L210.01,235.68 L210.10,237.13 L210.19,238.73 L210.27,240.44 L210.36,242.20 L210.45,240.48 L210.53,238.81 L210.62,237.24 L210.70,235.82 L210.79,234.60 L210.87,233.61 L210.96,232.88 L211.04,232.43 L211.13,232.28 L211.21,232.43 L211.30,232.89 L211.38,233.64 L211.47,234.66 L211.56,235.92 L211.64,237.38 L211.73,238.99 L211.81,240.70 L211.90,242.47 L211.98,240.74 L212.06,239.06 L212.14,237.49 L212.23,236.06 L212.31,234.83 L212.39,233.83 L212.48,233.10 L212.56,232.65 L212.64,232.50 L212.72,232.64 L212.81,233.05 L212.89,233.72 L212.97,234.62 L213.05,235.75 L213.14,237.04 L213.22,238.48 L213.30,240.01 L213.39,241.59 L213.47,240.17 L213.55,238.80 L213.63,237.51 L213.71,236.34 L213.79,235.33 L213.87,234.52 L213.95,233.92 L214.03,233.55 L214.11,233.42 L214.19,233.53 L214.27,233.86 L214.35,234.40 L214.43,235.14 L214.51,236.04 L214.59,237.09 L214.67,238.24 L214.75,239.48 L214.83,240.75 L214.92,239.31 L215.00,237.94 L215.09,236.66 L215.18,235.55 L215.27,234.64 L215.36,233.96 L215.44,233.54 L215.53,233.40 L215.62,233.55 L215.71,233.99 L215.79,234.70 L215.88,235.66 L215.97,236.84 L216.06,238.18 L216.14,239.63 L216.23,241.14 L216.32,239.61 L216.40,238.15 L216.49,236.80 L216.57,235.61 L216.66,234.64 L216.74,233.92 L216.83,233.48 L216.91,233.33 L217.00,233.46 L217.08,233.86 L217.17,234.51 L217.25,235.38 L217.34,236.45 L217.42,237.66 L217.51,238.98 L217.59,240.35 L217.67,239.14 L217.75,237.98 L217.84,236.91 L217.92,235.97 L218.00,235.20 L218.08,234.62 L218.17,234.27 L218.25,234.15 L218.33,234.26 L218.41,234.58 L218.50,235.09 L218.58,235.79 L218.66,236.63 L218.74,237.60 L218.83,238.65 L218.91,239.74 L219.00,238.45 L219.09,237.24 L219.18,236.14 L219.27,235.23 L219.36,234.54 L219.46,234.12 L219.55,233.97 L219.64,234.13 L219.73,234.58 L219.82,235.30 L219.91,236.27 L220.00,237.42 L220.10,238.71 L220.19,240.07 L220.28,238.78 L220.36,237.55 L220.45,236.45 L220.54,235.53 L220.63,234.84 L220.72,234.41 L220.81,234.27 L220.90,234.40 L220.98,234.79 L221.07,235.43 L221.16,236.27 L221.25,237.28 L221.34,238.41 L221.43,239.59 L221.51,238.35 L221.60,237.17 L221.69,236.11 L221.77,235.22 L221.86,234.56 L221.94,234.15 L222.03,234.01 L222.11,234.14 L222.20,234.54 L222.29,235.18 L222.37,236.04 L222.46,237.06 L222.54,238.20 L222.63,239.40 L222.71,238.27 L222.80,237.19 L222.88,236.23 L222.96,235.42 L223.05,234.81 L223.13,234.44 L223.21,234.31 L223.30,234.43 L223.38,234.79 L223.46,235.37 L223.55,236.14 L223.63,237.07 L223.71,238.10 L223.80,239.18 L223.88,238.13 L223.96,237.13 L224.04,236.23 L224.12,235.48 L224.20,234.92 L224.28,234.57 L224.36,234.45 L224.44,234.57 L224.53,234.93 L224.61,235.51 L224.69,236.28 L224.77,237.20 L224.85,238.22 L224.93,239.30 L225.02,238.18 L225.11,237.13 L225.20,236.23 L225.30,235.54 L225.39,235.11 L225.48,234.96 L225.57,235.08 L225.66,235.45 L225.75,236.04 L225.84,236.80 L225.94,237.69 L226.03,238.64 L226.12,237.68 L226.21,236.78 L226.29,236.01 L226.38,235.42 L226.47,235.05 L226.56,234.92 L226.65,235.04 L226.74,235.39 L226.83,235.94 L226.92,236.67 L227.00,237.51 L227.09,238.41 L227.18,237.52 L227.27,236.68 L227.35,235.96 L227.44,235.41 L227.52,235.07 L227.61,234.95 L227.70,235.06 L227.78,235.40 L227.87,235.93 L227.95,236.62 L228.04,237.43 L228.13,238.30 L228.21,237.51 L228.29,236.78 L228.38,236.15 L228.46,235.67 L228.54,235.37 L228.63,235.26 L228.71,235.36 L228.79,235.65 L228.88,236.11 L228.96,236.70 L229.04,237.39 L229.13,238.14 L229.21,237.38 L229.29,236.68 L229.37,236.07 L229.45,235.61 L229.53,235.31 L229.61,235.21 L229.70,235.32 L229.78,235.63 L229.86,236.11 L229.94,236.75 L230.02,237.49 L230.10,238.29 L230.19,237.35 L230.29,236.51 L230.38,235.83 L230.48,235.40 L230.57,235.26 L230.67,235.41 L230.76,235.85 L230.85,236.54 L230.95,237.40 L231.04,238.36 L231.14,237.35 L231.23,236.45 L231.32,235.72 L231.41,235.26 L231.50,235.10 L231.59,235.25 L231.68,235.68 L231.78,236.35 L231.87,237.19 L231.96,238.12 L232.05,237.27 L232.14,236.51 L232.23,235.90 L232.32,235.51 L232.41,235.37 L232.50,235.49 L232.59,235.83 L232.68,236.35 L232.77,237.01 L232.86,237.75 L232.95,237.09 L233.04,236.50 L233.13,236.03 L233.22,235.72 L233.31,235.62 L233.40,235.72 L233.49,236.03 L233.58,236.50 L233.67,237.09 L233.76,237.74 L233.85,237.04 L233.94,236.41 L234.03,235.91 L234.12,235.59 L234.21,235.48 L234.30,235.56 L234.39,235.80 L234.48,236.18 L234.57,236.66 L234.66,237.19 L234.75,236.58 L234.84,236.04 L234.93,235.61 L235.02,235.33 L235.11,235.24 L235.20,235.36 L235.29,235.72 L235.38,236.27 L235.47,236.96 L235.56,237.73 L235.65,237.10 L235.74,236.53 L235.83,236.07 L235.92,235.78 L236.01,235.68 L236.10,235.78 L236.19,236.05 L236.28,236.49 L236.37,237.03 L236.46,237.63 L236.55,237.17 L236.64,236.75 L236.73,236.41 L236.82,236.20 L236.91,236.12 L237.00,236.19 L237.09,236.39 L237.18,236.70 L237.27,237.09 L237.36,237.53 L237.45,236.86 L237.54,236.26 L237.63,235.78 L237.72,235.47 L237.81,235.37 L237.90,235.45 L237.99,235.70 L238.08,236.08 L238.17,236.57 L238.26,237.10 L238.35,236.73 L238.44,236.40 L238.53,236.13 L238.62,235.96 L238.71,235.91 L238.80,235.96 L238.89,236.10 L238.98,236.33 L239.07,236.62 L239.16,236.95 L239.25,236.74 L239.34,236.56 L239.43,236.42 L239.52,236.33 L239.61,236.29 L239.70,236.35 L239.79,236.53 L239.88,236.79 L239.97,237.13 L240.06,237.50 L240.15,237.10 L240.24,236.75 L240.33,236.46 L240.42,236.28 L240.51,236.22 L240.60,236.26 L240.69,236.38 L240.78,236.57 L240.87,236.80 L240.96,237.06 L241.05,236.80 L241.14,236.57 L241.23,236.38 L241.32,236.26 L241.41,236.22 L241.50,236.25 L241.59,236.32 L241.68,236.44 L241.77,236.58 L241.86,236.74 L241.95,236.44 L242.04,236.16 L242.13,235.94 L242.22,235.80 L242.31,235.75 L242.40,235.81 L242.49,235.99 L242.58,236.28 L242.67,236.63 L242.76,237.03 L242.85,236.76 L242.94,236.51 L243.03,236.32 L243.12,236.19 L243.21,236.15 L243.30,236.19 L243.39,236.32 L243.48,236.51 L243.57,236.76 L243.66,237.04 L243.75,236.60 L243.84,236.20 L243.93,235.88 L244.02,235.68 L244.11,235.61 L244.20,235.67 L244.29,235.86 L244.38,236.14 L244.47,236.50 L244.56,236.90 L244.65,236.55 L244.74,236.24 L244.83,236.00 L244.92,235.84 L245.01,235.79 L245.10,235.84 L245.19,235.99 L245.28,236.22 L245.37,236.52 L245.46,236.85 L245.55,236.48 L245.64,236.14 L245.73,235.88 L245.82,235.71 L245.91,235.65 L246.00,235.72 L246.09,235.90 L246.18,236.18 L246.27,236.54 L246.36,236.94 L246.45,236.62 L246.54,236.34 L246.63,236.11 L246.72,235.97 L246.81,235.92 L246.90,235.98 L246.99,236.17 L247.08,236.46 L247.17,236.84 L247.26,237.25 L247.35,236.94 L247.44,236.65 L247.53,236.43 L247.62,236.29 L247.71,236.24 L247.80,236.27 L247.89,236.38 L247.98,236.56 L248.07,236.77 L248.16,237.01 L248.25,236.68 L248.34,236.38 L248.43,236.15 L248.52,236.00 L248.61,235.94 L248.70,236.01 L248.79,236.19 L248.88,236.47 L248.97,236.83 L249.06,237.23 L249.15,236.95 L249.24,236.70 L249.33,236.51 L249.42,236.38 L249.51,236.33 L249.60,236.37 L249.69,236.49 L249.78,236.66 L249.87,236.88 L249.96,237.12 L250.05,236.86 L250.14,236.62 L250.23,236.43 L250.32,236.31 L250.41,236.27 L250.50,236.32 L250.59,236.47 L250.68,236.71 L250.77,237.01 L250.86,237.35 L250.95,236.80 L251.04,236.31 L251.13,235.93 L251.22,235.68 L251.31,235.59 L251.40,235.67 L251.49,235.91 L251.58,236.29 L251.67,236.76 L251.76,237.28 L251.85,236.82 L251.94,236.41 L252.03,236.09 L252.12,235.88 L252.21,235.81 L252.30,235.86 L252.39,236.02 L252.48,236.26 L252.57,236.57 L252.66,236.91 L252.75,236.71 L252.84,236.54 L252.93,236.40 L253.02,236.32 L253.11,236.29 L253.20,236.33 L253.29,236.44 L253.38,236.63 L253.47,236.86 L253.56,237.11 L253.65,236.68 L253.74,236.29 L253.83,235.98 L253.92,235.78 L254.01,235.71 L254.10,235.78 L254.19,235.96 L254.28,236.26 L254.37,236.63 L254.46,237.05 L254.55,236.61 L254.64,236.22 L254.73,235.91 L254.82,235.72 L254.91,235.65 L255.00,235.70 L255.09,235.86 L255.18,236.11 L255.27,236.42 L255.36,236.76 L255.45,236.63 L255.54,236.51 L255.63,236.41 L255.72,236.35 L255.81,236.33 L255.90,236.35 L255.99,236.42 L256.08,236.53 L256.17,236.66 L256.26,236.81 L256.35,236.61 L256.44,236.42 L256.53,236.27 L256.62,236.17 L256.71,236.14 L256.80,236.19 L256.89,236.32 L256.98,236.52 L257.07,236.78 L257.16,237.07 L257.25,236.85 L257.34,236.65 L257.43,236.49 L257.52,236.38 L257.61,236.35 L257.70,236.39 L257.79,236.49 L257.88,236.65 L257.97,236.86 L258.06,237.09 L258.15,236.64 L258.24,236.23 L258.33,235.90 L258.42,235.70 L258.51,235.62 L258.60,235.68 L258.69,235.84 L258.78,236.10 L258.87,236.42 L258.96,236.77 L259.05,236.55 L259.14,236.34 L259.23,236.18 L259.32,236.08 L259.41,236.04 L259.50,236.06 L259.59,236.12 L259.68,236.20 L259.77,236.31 L259.86,236.43 L259.95,236.33 L260.04,236.25 L260.13,236.18 L260.22,236.14 L260.31,236.12 L260.40,236.16 L260.49,236.27 L260.58,236.45 L260.67,236.67 L260.76,236.91 L260.85,236.75 L260.94,236.61 L261.03,236.49 L261.12,236.41 L261.21,236.39 L261.30,236.43 L261.39,236.54 L261.48,236.72 L261.57,236.95 L261.66,237.20 L261.75,236.76 L261.84,236.36 L261.93,236.04" fill="none" stroke="#ff0000" stroke-width="1.55" stroke-linejoin="round" stroke-linecap="butt"/>
<path d="M262.00,236.40 L262.08,236.26 L262.17,236.13 L262.25,236.03 L262.33,235.97 L262.41,235.95 L262.50,235.99 L262.59,236.12 L262.68,236.32 L262.77,236.57 L262.86,236.85 L262.95,236.71 L263.04,236.59 L263.13,236.49 L263.22,236.43 L263.31,236.40 L263.40,236.41 L263.49,236.42 L263.58,236.44 L263.67,236.46 L263.76,236.49 L263.85,236.44 L263.94,236.40 L264.03,236.37 L264.12,236.35 L264.21,236.34 L264.30,236.35 L264.39,236.39 L264.48,236.45 L264.57,236.52 L264.66,236.60 L264.75,236.47 L264.84,236.35 L264.93,236.25 L265.02,236.19 L265.11,236.17 L265.20,236.22 L265.29,236.36 L265.38,236.57 L265.47,236.84 L265.56,237.14 L265.65,236.85 L265.74,236.59 L265.83,236.37 L265.92,236.24 L266.01,236.19 L266.10,236.21 L266.19,236.26 L266.28,236.33 L266.37,236.43 L266.46,236.53 L266.55,236.35 L266.64,236.19 L266.73,236.06 L266.82,235.98 L266.91,235.95 L267.00,235.99 L267.09,236.13 L267.18,236.33 L267.27,236.59 L267.36,236.88 L267.45,236.71 L267.54,236.56 L267.63,236.43 L267.72,236.35 L267.81,236.33 L267.90,236.34 L267.99,236.37 L268.08,236.43 L268.17,236.50 L268.26,236.58 L268.35,236.41 L268.44,236.25 L268.53,236.13 L268.62,236.06 L268.71,236.03 L268.80,236.06 L268.89,236.17 L268.98,236.32 L269.07,236.52 L269.16,236.74 L269.25,236.43 L269.34,236.15 L269.43,235.93 L269.52,235.79 L269.61,235.74 L269.70,235.79 L269.79,235.93 L269.88,236.14 L269.97,236.42 L270.06,236.72 L270.15,236.53 L270.24,236.37 L270.33,236.24 L270.42,236.15 L270.51,236.12 L270.60,236.17 L270.69,236.32 L270.78,236.55 L270.87,236.83 L270.96,237.15 L271.05,236.84 L271.14,236.56 L271.23,236.34 L271.32,236.20 L271.41,236.15 L271.50,236.21 L271.59,236.40 L271.68,236.70 L271.77,237.08 L271.86,237.49 L271.95,236.85 L272.04,236.27 L272.13,235.81 L272.22,235.52 L272.31,235.42 L272.40,235.50 L272.49,235.75 L272.58,236.14 L272.67,236.63 L272.76,237.17 L272.85,236.72 L272.94,236.33 L273.03,236.01 L273.12,235.81 L273.21,235.74 L273.30,235.82 L273.39,236.08 L273.48,236.47 L273.57,236.97 L273.66,237.52 L273.75,237.11 L273.84,236.75 L273.93,236.45 L274.02,236.27 L274.11,236.20 L274.20,236.23 L274.29,236.32 L274.38,236.46 L274.47,236.63 L274.56,236.82 L274.65,236.53 L274.74,236.27 L274.83,236.07 L274.92,235.94 L275.01,235.89 L275.10,235.96 L275.19,236.17 L275.28,236.50 L275.37,236.91 L275.46,237.37 L275.55,236.90 L275.64,236.48 L275.73,236.14 L275.82,235.93 L275.91,235.85 L276.00,235.91 L276.09,236.08 L276.18,236.34 L276.27,236.67 L276.36,237.04 L276.45,236.64 L276.54,236.27 L276.63,235.99 L276.72,235.80 L276.81,235.74 L276.90,235.83 L276.99,236.11 L277.08,236.54 L277.17,237.08 L277.26,237.68 L277.35,237.10 L277.44,236.58 L277.53,236.17 L277.62,235.91 L277.71,235.81 L277.80,235.87 L277.89,236.03 L277.98,236.28 L278.07,236.59 L278.16,236.94 L278.25,236.58 L278.34,236.25 L278.43,235.99 L278.52,235.83 L278.61,235.77 L278.70,235.85 L278.79,236.09 L278.88,236.47 L278.97,236.94 L279.06,237.47 L279.15,236.90 L279.24,236.39 L279.33,235.98 L279.42,235.72 L279.51,235.63 L279.60,235.71 L279.69,235.95 L279.78,236.33 L279.87,236.80 L279.96,237.33 L280.05,236.86 L280.14,236.44 L280.23,236.11 L280.32,235.89 L280.41,235.82 L280.50,235.90 L280.59,236.14 L280.68,236.51 L280.77,236.97 L280.86,237.49 L280.95,236.78 L281.04,236.14 L281.13,235.63 L281.22,235.30 L281.31,235.19 L281.40,235.30 L281.49,235.63 L281.58,236.14 L281.67,236.78 L281.76,237.49 L281.85,236.75 L281.94,236.08 L282.03,235.55 L282.12,235.21 L282.21,235.10 L282.30,235.21 L282.39,235.55 L282.48,236.08 L282.57,236.74 L282.66,237.47 L282.75,236.69 L282.84,235.98 L282.93,235.42 L283.02,235.06 L283.11,234.93 L283.20,235.08 L283.29,235.50 L283.38,236.17 L283.47,237.01 L283.56,237.94 L283.65,237.22 L283.74,236.57 L283.83,236.05 L283.92,235.72 L284.01,235.61 L284.10,235.70 L284.19,235.96 L284.28,236.36 L284.37,236.87 L284.46,237.43 L284.55,236.70 L284.64,236.04 L284.73,235.52 L284.82,235.19 L284.91,235.07 L285.00,235.20 L285.09,235.56 L285.18,236.12 L285.27,236.83 L285.36,237.61 L285.45,236.76 L285.54,235.99 L285.63,235.38 L285.72,234.99 L285.81,234.85 L285.90,234.98 L285.99,235.36 L286.08,235.94 L286.17,236.68 L286.26,237.49 L286.35,236.81 L286.44,236.20 L286.53,235.71 L286.62,235.40 L286.71,235.29 L286.80,235.41 L286.89,235.75 L286.98,236.28 L287.07,236.94 L287.16,237.68 L287.25,236.87 L287.34,236.14 L287.43,235.55 L287.52,235.18 L287.61,235.05 L287.70,235.19 L287.79,235.60 L287.88,236.24 L287.97,237.04 L288.06,237.92 L288.15,236.92 L288.24,236.01 L288.33,235.29 L288.42,234.83 L288.51,234.67 L288.60,234.83 L288.69,235.29 L288.78,236.00 L288.87,236.89 L288.96,237.89 L289.05,236.93 L289.14,236.06 L289.23,235.36 L289.32,234.92 L289.41,234.77 L289.50,234.91 L289.59,235.32 L289.68,235.95 L289.77,236.75 L289.86,237.63 L289.95,236.82 L290.04,236.08 L290.13,235.49 L290.22,235.12 L290.31,234.99 L290.40,235.12 L290.49,235.50 L290.58,236.09 L290.67,236.83 L290.76,237.66 L290.85,236.88 L290.94,236.18 L291.03,235.62 L291.12,235.26 L291.21,235.14 L291.30,235.27 L291.39,235.64 L291.48,236.23 L291.57,236.97 L291.66,237.79 L291.75,236.78 L291.84,235.86 L291.93,235.13 L292.02,234.67 L292.11,234.50 L292.20,234.67 L292.29,235.17 L292.38,235.94 L292.47,236.91 L292.56,237.99 L292.65,236.82 L292.74,235.77 L292.83,234.93 L292.92,234.40 L293.01,234.21 L293.10,234.43 L293.19,235.05 L293.28,236.02 L293.37,237.24 L293.46,238.59 L293.55,237.38 L293.64,236.29 L293.73,235.42 L293.82,234.87 L293.91,234.68 L294.00,234.87 L294.09,235.43 L294.18,236.31 L294.27,237.41 L294.36,238.64 L294.45,237.44 L294.54,236.36 L294.63,235.50 L294.72,234.95 L294.81,234.76 L294.90,234.93 L294.99,235.44 L295.08,236.23 L295.17,237.23 L295.26,238.33 L295.35,237.25 L295.44,236.28 L295.53,235.50 L295.62,235.01 L295.71,234.84 L295.80,235.03 L295.89,235.58 L295.98,236.44 L296.07,237.53 L296.16,238.74 L296.25,237.26 L296.34,235.92 L296.43,234.86 L296.52,234.18 L296.61,233.95 L296.70,234.16 L296.79,234.77 L296.88,235.73 L296.97,236.94 L297.06,238.28 L297.15,237.19 L297.24,236.22 L297.33,235.44 L297.42,234.94 L297.51,234.77 L297.60,234.97 L297.69,235.57 L297.78,236.50 L297.87,237.68 L297.96,238.98 L298.05,237.55 L298.14,236.25 L298.23,235.23 L298.32,234.57 L298.41,234.34 L298.50,234.55 L298.59,235.14 L298.68,236.06 L298.77,237.22 L298.86,238.50 L298.95,237.07 L299.04,235.78 L299.13,234.75 L299.22,234.10 L299.31,233.87 L299.40,234.10 L299.49,234.78 L299.58,235.84 L299.67,237.18 L299.76,238.66 L299.85,237.31 L299.94,236.09 L300.03,235.13 L300.12,234.51 L300.21,234.30 L300.30,234.52 L300.39,235.16 L300.48,236.16 L300.57,237.42 L300.66,238.81 L300.75,237.19 L300.84,235.73 L300.93,234.57 L301.02,233.82 L301.11,233.56 L301.20,233.81 L301.29,234.52 L301.38,235.63 L301.47,237.02 L301.56,238.57 L301.65,236.99 L301.74,235.57 L301.83,234.44 L301.92,233.72 L302.01,233.47 L302.10,233.74 L302.19,234.52 L302.28,235.73 L302.37,237.26 L302.46,238.96 L302.56,237.20 L302.65,235.62 L302.75,234.37 L302.84,233.57 L302.93,233.29 L303.03,233.56 L303.12,234.36 L303.22,235.59 L303.31,237.15 L303.40,238.88 L303.49,237.58 L303.57,236.37 L303.66,235.34 L303.74,234.54 L303.83,234.04 L303.91,233.87 L303.99,234.05 L304.08,234.60 L304.16,235.46 L304.25,236.59 L304.33,237.90 L304.42,239.31 L304.51,237.68 L304.60,236.17 L304.69,234.86 L304.78,233.87 L304.87,233.24 L304.96,233.02 L305.05,233.24 L305.14,233.88 L305.23,234.90 L305.32,236.23 L305.41,237.78 L305.51,239.44 L305.59,238.08 L305.67,236.79 L305.76,235.63 L305.84,234.66 L305.92,233.93 L306.01,233.48 L306.09,233.32 L306.17,233.50 L306.26,234.02 L306.34,234.85 L306.42,235.95 L306.51,237.27 L306.59,238.74 L306.68,240.30 L306.77,238.72 L306.86,237.23 L306.94,235.89 L307.03,234.77 L307.12,233.93 L307.21,233.41 L307.30,233.23 L307.39,233.40 L307.48,233.91 L307.57,234.72 L307.66,235.79 L307.75,237.08 L307.84,238.52 L307.93,240.03 L308.02,238.70 L308.10,237.41 L308.19,236.23 L308.27,235.19 L308.36,234.34 L308.44,233.70 L308.53,233.31 L308.61,233.18 L308.69,233.33 L308.78,233.77 L308.86,234.48 L308.95,235.43 L309.03,236.60 L309.12,237.93 L309.20,239.37 L309.29,240.87 L309.37,239.43 L309.45,238.04 L309.53,236.73 L309.61,235.54 L309.69,234.52 L309.77,233.69 L309.85,233.08 L309.93,232.71 L310.01,232.59 L310.09,232.71 L310.18,233.08 L310.26,233.69 L310.34,234.51 L310.42,235.52 L310.50,236.70 L310.58,238.00 L310.66,239.38 L310.74,240.81 L310.83,239.41 L310.92,238.06 L311.00,236.78 L311.09,235.63 L311.18,234.64 L311.26,233.84 L311.35,233.24 L311.44,232.88 L311.52,232.76 L311.61,232.90 L311.70,233.31 L311.78,233.98 L311.87,234.90 L311.96,236.03 L312.05,237.33 L312.13,238.78 L312.22,240.32 L312.31,241.91 L312.39,240.33 L312.47,238.79 L312.56,237.33 L312.64,235.98 L312.73,234.78 L312.81,233.75 L312.89,232.92 L312.98,232.32 L313.06,231.95 L313.15,231.82 L313.23,231.95 L313.32,232.32 L313.40,232.94 L313.48,233.78 L313.57,234.82 L313.65,236.04 L313.74,237.41 L313.82,238.89 L313.90,240.45 L313.99,242.05 L314.07,240.66 L314.15,239.29 L314.23,237.98 L314.32,236.76 L314.40,235.64 L314.48,234.65 L314.56,233.82 L314.65,233.15 L314.73,232.66 L314.81,232.36 L314.89,232.26 L314.97,232.38 L315.06,232.71 L315.14,233.27 L315.22,234.04 L315.30,234.99 L315.39,236.12 L315.47,237.40 L315.55,238.80 L315.63,240.29 L315.71,241.85 L315.80,243.44 L315.88,241.89 L315.96,240.37 L316.04,238.90 L316.12,237.51 L316.20,236.22 L316.28,235.05 L316.36,234.03 L316.45,233.16 L316.53,232.48 L316.61,231.98 L316.69,231.67 L316.77,231.57 L316.85,231.68 L316.93,231.99 L317.01,232.50 L317.09,233.20 L317.17,234.09 L317.26,235.14 L317.34,236.34 L317.42,237.66 L317.50,239.09 L317.58,240.60 L317.66,242.16 L317.74,243.75 L317.82,242.28 L317.90,240.83 L317.98,239.43 L318.06,238.08 L318.14,236.82 L318.22,235.67 L318.30,234.62 L318.39,233.72 L318.47,232.95 L318.55,232.35 L318.63,231.91 L318.71,231.65 L318.79,231.56 L318.87,231.66 L318.95,231.98 L319.03,232.50 L319.11,233.22 L319.19,234.13 L319.27,235.21 L319.35,236.45 L319.43,237.83 L319.51,239.33 L319.59,240.93 L319.67,242.60 L319.75,244.32 L319.83,246.07 L319.91,244.34 L319.99,242.63 L320.07,240.97 L320.15,239.37 L320.23,237.85 L320.32,236.43 L320.40,235.14 L320.48,233.98 L320.56,232.98 L320.64,232.14 L320.72,231.48 L320.80,231.00 L320.88,230.71 L320.96,230.61 L321.04,230.72 L321.12,231.04 L321.20,231.57 L321.28,232.30 L321.36,233.23 L321.44,234.34 L321.52,235.62 L321.60,237.05 L321.68,238.61 L321.76,240.29 L321.84,242.07 L321.92,243.91 L322.00,245.80 L322.08,247.72 L322.16,245.91 L322.24,244.12 L322.32,242.37 L322.40,240.67 L322.49,239.06 L322.57,237.54 L322.65,236.13 L322.73,234.85 L322.81,233.71 L322.89,232.72 L322.97,231.90 L323.05,231.25 L323.13,230.78 L323.21,230.50 L323.29,230.41 L323.37,230.51 L323.45,230.84 L323.53,231.38 L323.61,232.13 L323.69,233.07 L323.77,234.21 L323.86,235.52 L323.94,237.00 L324.02,238.62 L324.10,240.36 L324.18,242.22 L324.26,244.17 L324.34,246.18 L324.42,248.24 L324.50,250.32 L324.58,248.39 L324.66,246.48 L324.74,244.60 L324.82,242.78 L324.91,241.03 L324.99,239.37 L325.07,237.82 L325.15,236.38 L325.23,235.08 L325.31,233.93 L325.39,232.94 L325.48,232.11 L325.56,231.46 L325.64,230.99 L325.72,230.70 L325.80,230.61 L325.88,230.75 L325.96,231.19 L326.04,231.91 L326.12,232.90 L326.21,234.16 L326.29,235.68 L326.37,237.44 L326.45,239.42 L326.53,241.61 L326.61,243.98 L326.69,246.52 L326.78,249.18 L326.86,251.97 L326.94,254.83 L327.02,257.75 L327.10,260.70 L327.18,258.17 L327.27,255.66 L327.35,253.19 L327.44,250.76 L327.52,248.41 L327.61,246.14 L327.69,243.96 L327.77,241.91 L327.86,239.98 L327.94,238.19 L328.03,236.55 L328.11,235.08 L328.19,233.79 L328.28,232.68 L328.36,231.76 L328.45,231.04 L328.53,230.52 L328.62,230.20 L328.70,230.10 L328.78,230.17 L328.86,230.36 L328.94,230.69 L329.02,231.15 L329.10,231.73 L329.18,232.43 L329.26,233.25 L329.34,234.19 L329.42,235.23 L329.50,236.37 L329.58,237.60 L329.66,238.92 L329.74,240.32 L329.82,241.78 L329.90,243.31 L329.98,244.89 L330.06,246.50 L330.14,248.15 L330.22,249.82 L330.30,251.50 L330.38,249.46 L330.46,247.44 L330.55,245.45 L330.63,243.52 L330.71,241.65 L330.79,239.87 L330.88,238.18 L330.96,236.61 L331.04,235.17 L331.12,233.86 L331.21,232.71 L331.29,231.72 L331.37,230.89 L331.45,230.24 L331.54,229.78 L331.62,229.49 L331.70,229.40 L331.78,229.49 L331.86,229.76 L331.94,230.21 L332.02,230.84 L332.11,231.63 L332.19,232.59 L332.27,233.69 L332.35,234.94 L332.43,236.31 L332.51,237.80 L332.59,239.39 L332.68,241.07 L332.76,242.81 L332.84,244.61 L332.92,246.45 L333.00,248.30 L333.08,246.79 L333.16,245.28 L333.24,243.79 L333.32,242.34 L333.40,240.91 L333.48,239.54 L333.56,238.22 L333.64,236.96 L333.72,235.77 L333.80,234.65 L333.88,233.62 L333.96,232.69 L334.04,231.84 L334.12,231.10 L334.20,230.47 L334.28,229.94 L334.36,229.53 L334.44,229.24 L334.52,229.06 L334.60,229.00 L334.68,229.05 L334.77,229.21 L334.85,229.47 L334.94,229.83 L335.02,230.30 L335.11,230.86 L335.19,231.51 L335.27,232.25 L335.36,233.07 L335.44,233.97 L335.53,234.94 L335.61,235.98 L335.69,237.07 L335.78,238.21 L335.86,239.40 L335.95,240.62 L336.03,241.87 L336.12,243.13 L336.20,244.40 L336.28,243.14 L336.36,241.90 L336.44,240.66 L336.52,239.46 L336.60,238.28 L336.68,237.14 L336.76,236.04 L336.84,235.00 L336.92,234.01 L337.00,233.09 L337.08,232.23 L337.16,231.46 L337.24,230.76 L337.32,230.14 L337.40,229.62 L337.48,229.18 L337.56,228.84 L337.64,228.60 L337.72,228.45 L337.80,228.40 L337.88,228.44 L337.97,228.57 L338.05,228.77 L338.14,229.06 L338.22,229.43 L338.31,229.87 L338.39,230.39 L338.47,230.97 L338.56,231.62 L338.64,232.34 L338.73,233.11 L338.81,233.93 L338.89,234.79 L338.98,235.70 L339.06,236.64 L339.15,237.61 L339.23,238.59 L339.32,239.59 L339.40,240.60 L339.48,239.84 L339.57,239.07 L339.65,238.29 L339.73,237.50 L339.81,236.71 L339.90,235.92 L339.98,235.15 L340.06,234.38 L340.14,233.63 L340.23,232.91 L340.31,232.21 L340.39,231.55 L340.47,230.93 L340.56,230.35 L340.64,229.82 L340.72,229.34 L340.80,228.91 L340.89,228.55 L340.97,228.25 L341.05,228.01 L341.13,227.84 L341.22,227.73 L341.30,227.70 L341.38,227.73 L341.46,227.82 L341.54,227.97 L341.62,228.18 L341.70,228.45 L341.79,228.77 L341.87,229.14 L341.95,229.56 L342.03,230.03 L342.11,230.55 L342.19,231.11 L342.27,231.70 L342.35,232.32 L342.43,232.98 L342.51,233.66 L342.60,234.36 L342.68,235.07 L342.76,235.80 L342.84,236.53 L342.92,237.27 L343.00,238.00 L343.08,237.34 L343.17,236.67 L343.25,235.99 L343.33,235.31 L343.41,234.62 L343.50,233.94 L343.58,233.26 L343.66,232.60 L343.74,231.95 L343.83,231.32 L343.91,230.72 L343.99,230.15 L344.07,229.60 L344.16,229.10 L344.24,228.64 L344.32,228.22 L344.40,227.85 L344.49,227.54 L344.57,227.28 L344.65,227.07 L344.73,226.92 L344.82,226.83 L344.90,226.80 L344.98,226.82 L345.06,226.87 L345.14,226.95 L345.22,227.06 L345.30,227.20 L345.38,227.37 L345.46,227.58 L345.54,227.80 L345.62,228.06 L345.70,228.33 L345.78,228.63 L345.86,228.95 L345.94,229.28 L346.02,229.63 L346.10,229.99 L346.18,230.37 L346.26,230.74 L346.34,231.13 L346.42,231.51 L346.50,231.90 L346.58,232.28 L346.66,232.66 L346.74,233.04 L346.82,233.40 L346.90,233.75 L346.98,234.09 L347.06,234.42 L347.14,234.73 L347.22,235.02 L347.30,235.30 L347.38,234.96 L347.47,234.60 L347.55,234.22 L347.63,233.83 L347.71,233.41 L347.80,232.98 L347.88,232.53 L347.96,232.08 L348.04,231.61 L348.13,231.14 L348.21,230.67 L348.29,230.20 L348.38,229.74 L348.46,229.28 L348.54,228.84 L348.62,228.40 L348.71,227.99 L348.79,227.59 L348.87,227.22 L348.96,226.88 L349.04,226.56 L349.12,226.27 L349.20,226.02 L349.29,225.80 L349.37,225.63 L349.45,225.48 L349.53,225.38 L349.62,225.32 L349.70,225.30 L349.78,225.31 L349.86,225.35 L349.94,225.42 L350.02,225.51 L350.10,225.62 L350.18,225.76 L350.26,225.92 L350.34,226.10 L350.42,226.31 L350.50,226.53 L350.58,226.77 L350.66,227.02 L350.74,227.29 L350.82,227.57 L350.90,227.86 L350.98,228.15 L351.06,228.46 L351.14,228.76 L351.22,229.07 L351.30,229.38 L351.38,229.69 L351.46,229.99 L351.54,230.29 L351.62,230.58 L351.70,230.86 L351.78,231.13 L351.86,231.40 L351.94,231.64 L352.02,231.88 L352.10,232.10 L352.18,231.91 L352.26,231.70 L352.35,231.47 L352.43,231.22 L352.51,230.95 L352.59,230.67 L352.67,230.37 L352.75,230.06 L352.84,229.73 L352.92,229.40 L353.00,229.05 L353.08,228.71 L353.16,228.35 L353.25,228.00 L353.33,227.64 L353.41,227.29 L353.49,226.94 L353.57,226.60 L353.65,226.27 L353.74,225.96 L353.82,225.65 L353.90,225.36 L353.98,225.09 L354.06,224.84 L354.15,224.61 L354.23,224.40 L354.31,224.22 L354.39,224.06 L354.47,223.93 L354.55,223.83 L354.64,223.76 L354.72,223.71 L354.80,223.70 L354.88,223.71 L354.96,223.73 L355.04,223.78 L355.12,223.84 L355.20,223.91 L355.28,224.00 L355.36,224.11 L355.44,224.23 L355.52,224.36 L355.60,224.51 L355.68,224.67 L355.76,224.84 L355.84,225.02 L355.92,225.20 L356.00,225.40 L356.08,225.60 L356.16,225.81 L356.24,226.02 L356.32,226.23 L356.40,226.44 L356.48,226.66 L356.56,226.87 L356.64,227.08 L356.72,227.28 L356.80,227.48 L356.88,227.68 L356.96,227.86 L357.04,228.04 L357.12,228.21 L357.20,228.37 L357.28,228.52 L357.36,228.66 L357.44,228.78 L357.52,228.90 L357.60,229.00 L357.68,228.99 L357.76,228.97 L357.84,228.93 L357.92,228.87 L358.00,228.80 L358.09,228.71 L358.17,228.60 L358.25,228.48 L358.33,228.35 L358.41,228.20 L358.49,228.04 L358.57,227.87 L358.65,227.69 L358.73,227.49 L358.81,227.29 L358.89,227.08 L358.97,226.86 L359.06,226.63 L359.14,226.40 L359.22,226.16 L359.30,225.92 L359.38,225.67 L359.46,225.42 L359.54,225.18 L359.62,224.93 L359.70,224.68 L359.78,224.44 L359.86,224.20 L359.94,223.97 L360.03,223.74 L360.11,223.52 L360.19,223.31 L360.27,223.11 L360.35,222.91 L360.43,222.73 L360.51,222.56 L360.59,222.40 L360.67,222.25 L360.75,222.12 L360.83,222.00 L360.91,221.89 L361.00,221.80 L361.08,221.73 L361.16,221.67 L361.24,221.63 L361.32,221.61 L361.40,221.60 L361.48,221.60 L361.56,221.61 L361.64,221.62 L361.72,221.64 L361.80,221.67 L361.88,221.69 L361.96,221.73 L362.04,221.77 L362.12,221.81 L362.20,221.86 L362.28,221.91 L362.36,221.97 L362.45,222.03 L362.53,222.09 L362.61,222.16 L362.69,222.23 L362.77,222.30 L362.85,222.38 L362.93,222.45 L363.01,222.53 L363.09,222.62 L363.17,222.70 L363.25,222.79 L363.33,222.87 L363.41,222.96 L363.49,223.04 L363.57,223.13 L363.65,223.21 L363.73,223.30 L363.81,223.38 L363.89,223.47 L363.97,223.55 L364.05,223.62 L364.13,223.70 L364.21,223.77 L364.29,223.84 L364.37,223.91 L364.45,223.97 L364.54,224.03 L364.62,224.09 L364.70,224.14 L364.78,224.19 L364.86,224.23 L364.94,224.27 L365.02,224.31 L365.10,224.33 L365.18,224.36 L365.26,224.38 L365.34,224.39 L365.42,224.40 L365.50,224.40 L365.88,224.13 L366.25,223.87 L366.62,223.58 L367.00,223.20 L367.32,222.76 L367.64,222.23 L367.96,221.68 L368.28,221.15 L368.60,220.70 L368.95,220.30 L369.30,219.98 L369.65,219.71 L370.00,219.50 L370.36,219.33 L370.72,219.20 L371.08,219.10 L371.44,219.04 L371.80,219.00 L372.19,218.99 L372.57,219.01 L372.96,219.05 L373.34,219.09 L373.73,219.14 L374.11,219.18 L374.50,219.20 L374.88,219.21 L375.27,219.23 L375.65,219.24 L376.03,219.23 L376.42,219.19 L376.80,219.10 L377.19,218.98 L377.58,218.85 L377.97,218.70 L378.36,218.54 L378.75,218.37 L379.14,218.19 L379.53,218.01 L379.92,217.81 L380.31,217.61 L380.70,217.40 L381.08,217.19 L381.47,216.96 L381.85,216.72 L382.24,216.47 L382.62,216.22 L383.01,215.96 L383.39,215.71 L383.78,215.45 L384.16,215.20 L384.55,214.96 L384.93,214.73 L385.32,214.51 L385.70,214.30 L386.09,214.10 L386.48,213.91 L386.88,213.73 L387.27,213.56 L387.66,213.39 L388.05,213.22 L388.45,213.07 L388.84,212.91 L389.23,212.76 L389.62,212.62 L390.02,212.48 L390.41,212.34 L390.80,212.20 L391.20,212.06 L391.60,211.93 L392.00,211.79 L392.40,211.66 L392.80,211.54 L393.20,211.41 L393.60,211.29 L394.00,211.16 L394.40,211.04 L394.80,210.92 L395.20,210.80 L395.60,210.68 L396.00,210.56 L396.40,210.44 L396.80,210.32 L397.20,210.20 L397.60,210.07 L398.00,209.95 L398.40,209.82 L398.80,209.70 L399.20,209.57 L399.60,209.43 L400.00,209.30 L400.39,209.17 L400.79,209.03 L401.18,208.90 L401.57,208.76 L401.97,208.63 L402.36,208.49 L402.75,208.35 L403.15,208.22 L403.54,208.08 L403.93,207.95 L404.33,207.81 L404.72,207.67 L405.12,207.54 L405.51,207.40 L405.90,207.26 L406.30,207.12 L406.69,206.98 L407.08,206.85 L407.48,206.71 L407.87,206.57 L408.26,206.43 L408.66,206.29 L409.05,206.15 L409.44,206.01 L409.84,205.87 L410.23,205.73 L410.62,205.59 L411.02,205.45 L411.41,205.31 L411.80,205.17 L412.20,205.03 L412.59,204.89 L412.98,204.75 L413.38,204.61 L413.77,204.46 L414.17,204.32 L414.56,204.18 L414.95,204.04 L415.35,203.90 L415.74,203.75 L416.13,203.61 L416.53,203.47 L416.92,203.33 L417.31,203.19 L417.71,203.04 L418.10,202.90 L418.50,202.76 L418.90,202.61 L419.29,202.46 L419.69,202.32 L420.09,202.17 L420.49,202.03 L420.89,201.88 L421.28,201.73 L421.68,201.58 L422.08,201.44 L422.48,201.29 L422.88,201.14 L423.27,200.99 L423.67,200.84 L424.07,200.69 L424.47,200.54 L424.86,200.39 L425.26,200.25 L425.66,200.10 L426.06,199.95 L426.46,199.80 L426.85,199.65 L427.25,199.50 L427.65,199.35 L428.05,199.20 L428.45,199.05 L428.84,198.90 L429.24,198.75 L429.64,198.60 L430.04,198.45 L430.44,198.30 L430.83,198.15 L431.23,198.00 L431.63,197.85 L432.03,197.70 L432.43,197.56 L432.82,197.41 L433.22,197.26 L433.62,197.11 L434.02,196.96 L434.41,196.82 L434.81,196.67 L435.21,196.52 L435.61,196.38 L436.01,196.23 L436.40,196.09 L436.80,195.94 L437.20,195.80 L437.60,195.66 L438.00,195.51 L438.40,195.37 L438.80,195.23 L439.20,195.08 L439.60,194.94 L440.00,194.80 L440.40,194.66 L440.80,194.52 L441.20,194.38 L441.60,194.24 L442.00,194.10 L442.40,193.96 L442.80,193.82 L443.20,193.68 L443.60,193.54 L444.00,193.40 L444.40,193.26 L444.80,193.13 L445.20,192.99 L445.60,192.85 L446.00,192.71 L446.40,192.57 L446.80,192.44 L447.20,192.30 L447.60,192.16 L448.00,192.02 L448.40,191.88 L448.80,191.75 L449.20,191.61 L449.60,191.47 L450.00,191.33 L450.40,191.19 L450.80,191.06 L451.20,190.92 L451.60,190.78 L452.00,190.64 L452.40,190.50" fill="none" stroke="#00ff00" stroke-width="1.60" stroke-linejoin="round" stroke-linecap="butt"/>
<path d="M22.9,1.6 L19.6,8.0 L22.9,14.4" fill="none" stroke="#000" stroke-width="1.1" stroke-linejoin="miter"/>
<path d="M42.6,1.6 L45.9,8.0 L42.6,14.4" fill="none" stroke="#000" stroke-width="1.1" stroke-linejoin="miter"/>
</svg>
<div class="t " style="left:3.00px;top:33.29px;font-size:13.50px;letter-spacing:-0.3px">10<span class="sub" style="font-size:12.30px;top:-5.20px;left:0.40px;font-style:normal">16</span></div>
<div class="t " style="left:3.00px;top:83.29px;font-size:13.50px;letter-spacing:-0.3px">10<span class="sub" style="font-size:12.30px;top:-5.20px;left:0.40px;font-style:normal">11</span></div>
<div class="t " style="left:8.00px;top:133.29px;font-size:13.50px;letter-spacing:-0.3px">10<span class="sub" style="font-size:12.30px;top:-5.20px;left:0.30px;font-style:normal">6</span></div>
<div class="t " style="left:15.00px;top:181.62px;font-size:14.30px;letter-spacing:-0.45px">10</div>
<div class="t " style="left:1.00px;top:233.89px;font-size:13.50px;letter-spacing:-0.3px">10<span class="sub" style="font-size:12.30px;top:-5.60px;left:0.50px;font-style:normal">&#8722;4</span></div>
<div class="t " style="left:21.00px;top:298.62px;font-size:14.30px;letter-spacing:-0.45px">0.01</div>
<div class="t " style="left:138.00px;top:298.62px;font-size:14.30px;letter-spacing:-0.45px">1</div>
<div class="t " style="left:240.00px;top:298.62px;font-size:14.30px;letter-spacing:-0.45px">100</div>
<div class="t " style="left:350.00px;top:297.29px;font-size:13.50px;letter-spacing:-0.3px">10<span class="sub" style="font-size:12.30px;top:-4.80px;left:0.80px;font-style:normal">4</span></div>
<div class="t b i" style="left:25.30px;top:0.94px;font-size:15.00px;">n<span class="sub b i" style="font-size:11.00px;top:1.90px;left:0.20px;font-style:italic">k</span></div>
<div class="t b i" style="left:471.00px;top:279.80px;font-size:16.00px;">a</div>
<div class="t b" style="left:65.80px;top:36.50px;font-size:16.00px;"><span style="font-size:16px">&#1013;</span><span style="padding:0 8.6px 0 8.0px">=</span>0.0001</div>
<div class="t i" style="left:242.00px;top:68.28px;font-size:12.80px;">k<span style="padding:0 4.9px 0 6.6px">&lt;</span>k<span class="sub i" style="font-size:12.40px;top:2.80px;left:0.00px;font-style:italic">min</span></div>
<div class="t i" style="left:393.00px;top:55.88px;font-size:12.80px;">k<span class="sub i" style="font-size:12.30px;top:3.50px;left:0.40px;font-style:italic">min</span></div>
<div class="t i" style="left:394.00px;top:134.88px;font-size:12.80px;">k<span class="sub i" style="font-size:12.70px;top:3.90px;left:-0.10px;font-style:italic">int</span></div>
<div class="t i" style="left:394.00px;top:172.48px;font-size:12.80px;">k<span class="sub i" style="font-size:12.50px;top:2.80px;left:-0.20px;font-style:italic">max</span></div>
<div class="t i" style="left:242.00px;top:213.68px;font-size:12.80px;">k<span style="padding:0 3.9px 0 3.5px">&gt;</span>k<span class="sub i" style="font-size:12.50px;top:2.90px;left:0.00px;font-style:italic">max</span></div>
<div class="t i" style="left:92.00px;top:262.71px;font-size:13.00px;">a<span class="sub i" style="font-size:11.50px;top:2.80px;left:-0.30px;font-style:italic">ex</span><span class="sub b" style="font-size:8.60px;top:4.20px;left:0.80px;font-style:normal">1</span></div>
<div class="t i" style="left:199.20px;top:262.71px;font-size:13.00px;">a<span class="sub" style="font-size:11.50px;top:2.80px;left:-0.30px;font-style:normal">en</span></div>
<div class="t i" style="left:303.80px;top:258.51px;font-size:13.00px;">a<span class="sub i" style="font-size:11.50px;top:2.20px;left:-0.10px;font-style:italic">ex</span><span class="sub" style="font-size:11.50px;top:7.30px;left:0.20px;font-style:normal">2</span></div>
</body></html>
